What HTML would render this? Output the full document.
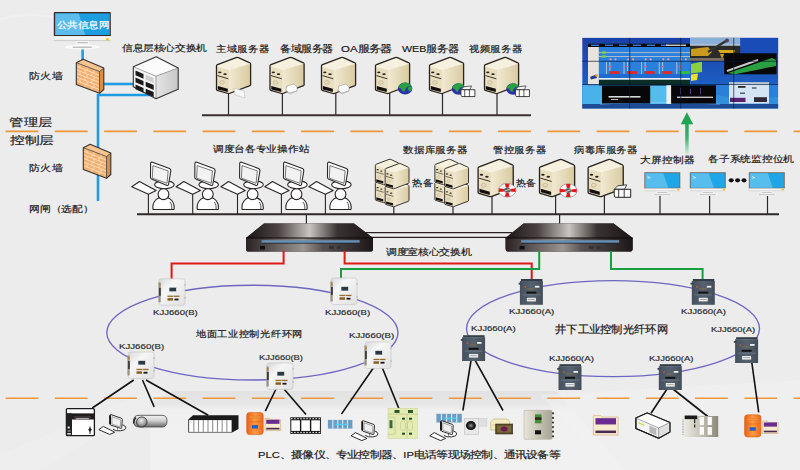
<!DOCTYPE html>
<html><head><meta charset="utf-8">
<style>
html,body{margin:0;padding:0;width:800px;height:470px;overflow:hidden;background:#ebebeb}
.t{position:absolute;white-space:nowrap;font-family:'Liberation Sans', sans-serif;line-height:1;color:#222;transform-origin:0 0}
.k{font-size:10px;font-weight:bold;color:#333}
</style></head><body>
<svg width="800" height="470" viewBox="0 0 800 470" style="position:absolute;left:0;top:0">

<defs>
 <linearGradient id="bg" x1="0" y1="0" x2="1" y2="1">
  <stop offset="0" stop-color="#ececec"/><stop offset="1" stop-color="#ececec"/>
 </linearGradient>
 <linearGradient id="band" x1="0" y1="391" x2="0" y2="470" gradientUnits="userSpaceOnUse">
  <stop offset="0" stop-color="#e2e2e2"/><stop offset="0.16" stop-color="#e6e6e6"/><stop offset="0.24" stop-color="#f0f0f0"/><stop offset="1" stop-color="#f1f1f1"/>
 </linearGradient>
 <linearGradient id="srvSide" x1="0" y1="0" x2="1" y2="0">
  <stop offset="0" stop-color="#f1e9d2"/><stop offset="1" stop-color="#d9cba0"/>
 </linearGradient>
 <linearGradient id="swTop" x1="0" y1="0" x2="1" y2="0">
  <stop offset="0" stop-color="#1b1515"/><stop offset="0.25" stop-color="#4a4242"/><stop offset="0.5" stop-color="#c9c4c0"/><stop offset="0.72" stop-color="#3a3333"/><stop offset="1" stop-color="#1a1414"/>
 </linearGradient>
 <linearGradient id="swFront" x1="0" y1="0" x2="1" y2="0">
  <stop offset="0" stop-color="#2a2222"/><stop offset="0.45" stop-color="#9a9490"/><stop offset="0.6" stop-color="#5a5252"/><stop offset="1" stop-color="#1c1616"/>
 </linearGradient>
 <linearGradient id="cubeSide" x1="0" y1="0" x2="1" y2="0">
  <stop offset="0" stop-color="#e4e4e4"/><stop offset="1" stop-color="#c8c8c8"/>
 </linearGradient>
 <linearGradient id="scrBlue" x1="0" y1="0" x2="1" y2="1">
  <stop offset="0" stop-color="#6cc4ee"/><stop offset="1" stop-color="#1c9fe0"/>
 </linearGradient>
 <linearGradient id="wall" x1="0" y1="0" x2="0" y2="1">
  <stop offset="0" stop-color="#1a40a8"/><stop offset="0.6" stop-color="#1c5cc0"/><stop offset="1" stop-color="#2a78d0"/>
 </linearGradient>
 <linearGradient id="nodeA" x1="0" y1="0" x2="1" y2="0">
  <stop offset="0" stop-color="#46505e"/><stop offset="0.5" stop-color="#56626f"/><stop offset="1" stop-color="#444e5b"/>
 </linearGradient>
 <linearGradient id="nodeB" x1="0" y1="0" x2="1" y2="1">
  <stop offset="0" stop-color="#d8d8d8"/><stop offset="0.35" stop-color="#f6f6f6"/><stop offset="1" stop-color="#e0e0e0"/>
 </linearGradient>
 <linearGradient id="orangePLC" x1="0" y1="0" x2="1" y2="0">
  <stop offset="0" stop-color="#e8601a"/><stop offset="0.5" stop-color="#ff9a40"/><stop offset="1" stop-color="#e86a20"/>
 </linearGradient>

 <linearGradient id="camGrad" x1="0" y1="0" x2="0" y2="1">
  <stop offset="0" stop-color="#f4f4f4"/><stop offset="0.45" stop-color="#d0d0d0"/><stop offset="1" stop-color="#6a6a6a"/>
 </linearGradient>
 <radialGradient id="camBall" cx="0.45" cy="0.35" r="0.7">
  <stop offset="0" stop-color="#f0f0f0"/><stop offset="0.6" stop-color="#a0a0a0"/><stop offset="1" stop-color="#505050"/>
 </radialGradient>
 <radialGradient id="domeBall" cx="0.5" cy="0.5" r="0.55">
  <stop offset="0" stop-color="#9a9a9a"/><stop offset="0.5" stop-color="#2a2a2a"/><stop offset="1" stop-color="#000"/>
 </radialGradient>
 <linearGradient id="tallGrad" x1="0" y1="0" x2="1" y2="0">
  <stop offset="0" stop-color="#e8e4d8"/><stop offset="1" stop-color="#a8a494"/>
 </linearGradient>
 <linearGradient id="modGrad" x1="0" y1="0" x2="1" y2="0">
  <stop offset="0" stop-color="#f0eee8"/><stop offset="0.5" stop-color="#c8c4b8"/><stop offset="1" stop-color="#8a867a"/>
 </linearGradient>
 <linearGradient id="arrowGrad" x1="0" y1="0" x2="0" y2="1">
  <stop offset="0" stop-color="#1fa552"/><stop offset="0.5" stop-color="#40b070"/><stop offset="1" stop-color="#d0ecd8"/>
 </linearGradient>
</defs>

<rect width="800" height="470" fill="url(#bg)"/>
<path d="M0,18 Q30,8 70,20 L70,22 Q30,11 0,21 Z" fill="#f3f3f3" opacity="0.5"/>
<path d="M178,391 L556,391 L625,470 L150,470 L150,412 Q152,391 178,391 Z" fill="url(#band)"/>
<path d="M540,395 L800,380 L800,470 L610,470 Z" fill="#f1f1f1" opacity="0.5"/>
<path d="M0,455 L140,395 L175,391 L40,470 L0,470 Z" fill="#f2f2f2" opacity="0.45"/>
<path d="M5.6,131.4 L800,131.4" stroke="#f0963a" stroke-width="1.6" stroke-dasharray="32.8 16.45"/>
<path d="M5.6,398.2 L800,398.2" stroke="#f0963a" stroke-width="1.6" stroke-dasharray="32.8 16.45"/>
<path d="M82.6,48 L82.6,61" stroke="#1e9be2" stroke-width="2.6" fill="none"/>
<path d="M103,84 L134,84" stroke="#1e9be2" stroke-width="2.6" fill="none"/>
<path d="M98,201 L98,95 L150,95" stroke="#1e9be2" stroke-width="2.6" fill="none"/>
<g transform="translate(53.8,11.9)"><rect x="0" y="0" width="57" height="24.5" rx="1.2" fill="#3a2a26"/><rect x="1.5" y="1.5" width="54.5" height="21.6" fill="#1c9ee0"/><path d="M1.5,1.5 L25,1.5 L31.5,23.1 L1.5,23.1 Z" fill="#5cbdec"/><rect x="0" y="24.2" width="57" height="5" fill="#f4f4f4"/><rect x="0" y="28" width="57" height="1.3" fill="#d0d0d0"/><circle cx="53.6" cy="27.3" r="1.3" fill="#f0c000"/><rect x="22" y="29.2" width="13.6" height="3.8" fill="#f6f6f6"/><rect x="23.5" y="30.4" width="10.5" height="0.9" fill="#aaa"/><ellipse cx="28.6" cy="35.1" rx="17.5" ry="2.4" fill="#fafafa"/><rect x="19" y="34.8" width="19" height="0.9" fill="#999"/></g>
<g transform="translate(76,59)"><path d="M0.3,3.7 L7.2,0.3 L27.8,9 L23.5,12.5 Z" fill="#f7c490"/><path d="M0.3,3.7 L23.5,12.5 L23.5,34.3 L0.3,25.5 Z" fill="#f2b070"/><path d="M23.5,12.5 L27.8,9 L27.8,30.5 L23.5,34.3 Z" fill="#d98e48"/><path d="M0.8,7.300000000000001 L23,16.1" stroke="#fde0c0" stroke-width="0.9"/><path d="M0.8,10.9 L23,19.700000000000003" stroke="#fde0c0" stroke-width="0.9"/><path d="M0.8,14.5 L23,23.3" stroke="#fde0c0" stroke-width="0.9"/><path d="M0.8,18.1 L23,26.900000000000002" stroke="#fde0c0" stroke-width="0.9"/><path d="M0.8,21.7 L23,30.5" stroke="#fde0c0" stroke-width="0.9"/><path d="M4,5.220000000000001 L4,8.82" stroke="#fde0c0" stroke-width="0.8"/><path d="M11,7.88 L11,11.48" stroke="#fde0c0" stroke-width="0.8"/><path d="M18,10.54 L18,14.139999999999999" stroke="#fde0c0" stroke-width="0.8"/><path d="M9,10.72 L9,14.32" stroke="#fde0c0" stroke-width="0.8"/><path d="M16,13.38 L16,16.98" stroke="#fde0c0" stroke-width="0.8"/><path d="M4,12.42 L4,16.02" stroke="#fde0c0" stroke-width="0.8"/><path d="M11,15.08 L11,18.68" stroke="#fde0c0" stroke-width="0.8"/><path d="M18,17.740000000000002 L18,21.340000000000003" stroke="#fde0c0" stroke-width="0.8"/><path d="M9,17.92 L9,21.520000000000003" stroke="#fde0c0" stroke-width="0.8"/><path d="M16,20.58 L16,24.18" stroke="#fde0c0" stroke-width="0.8"/><path d="M4,19.62 L4,23.220000000000002" stroke="#fde0c0" stroke-width="0.8"/><path d="M11,22.28 L11,25.880000000000003" stroke="#fde0c0" stroke-width="0.8"/><path d="M18,24.94 L18,28.540000000000003" stroke="#fde0c0" stroke-width="0.8"/><path d="M9,25.119999999999997 L9,28.72" stroke="#fde0c0" stroke-width="0.8"/><path d="M16,27.78 L16,31.380000000000003" stroke="#fde0c0" stroke-width="0.8"/><path d="M0.3,3.7 L7.2,0.3 L27.8,9 L27.8,30.5 L23.5,34.3 L0.3,25.5 Z" fill="none" stroke="#333" stroke-width="1.1" stroke-linejoin="round"/><path d="M0.3,3.7 L23.5,12.5 L27.8,9 M23.5,12.5 L23.5,34.3" fill="none" stroke="#333" stroke-width="0.7"/></g>
<g transform="translate(83,144)"><path d="M0.3,3.7 L7.2,0.3 L27.8,9 L23.5,12.5 Z" fill="#f7c490"/><path d="M0.3,3.7 L23.5,12.5 L23.5,34.3 L0.3,25.5 Z" fill="#f2b070"/><path d="M23.5,12.5 L27.8,9 L27.8,30.5 L23.5,34.3 Z" fill="#d98e48"/><path d="M0.8,7.300000000000001 L23,16.1" stroke="#fde0c0" stroke-width="0.9"/><path d="M0.8,10.9 L23,19.700000000000003" stroke="#fde0c0" stroke-width="0.9"/><path d="M0.8,14.5 L23,23.3" stroke="#fde0c0" stroke-width="0.9"/><path d="M0.8,18.1 L23,26.900000000000002" stroke="#fde0c0" stroke-width="0.9"/><path d="M0.8,21.7 L23,30.5" stroke="#fde0c0" stroke-width="0.9"/><path d="M4,5.220000000000001 L4,8.82" stroke="#fde0c0" stroke-width="0.8"/><path d="M11,7.88 L11,11.48" stroke="#fde0c0" stroke-width="0.8"/><path d="M18,10.54 L18,14.139999999999999" stroke="#fde0c0" stroke-width="0.8"/><path d="M9,10.72 L9,14.32" stroke="#fde0c0" stroke-width="0.8"/><path d="M16,13.38 L16,16.98" stroke="#fde0c0" stroke-width="0.8"/><path d="M4,12.42 L4,16.02" stroke="#fde0c0" stroke-width="0.8"/><path d="M11,15.08 L11,18.68" stroke="#fde0c0" stroke-width="0.8"/><path d="M18,17.740000000000002 L18,21.340000000000003" stroke="#fde0c0" stroke-width="0.8"/><path d="M9,17.92 L9,21.520000000000003" stroke="#fde0c0" stroke-width="0.8"/><path d="M16,20.58 L16,24.18" stroke="#fde0c0" stroke-width="0.8"/><path d="M4,19.62 L4,23.220000000000002" stroke="#fde0c0" stroke-width="0.8"/><path d="M11,22.28 L11,25.880000000000003" stroke="#fde0c0" stroke-width="0.8"/><path d="M18,24.94 L18,28.540000000000003" stroke="#fde0c0" stroke-width="0.8"/><path d="M9,25.119999999999997 L9,28.72" stroke="#fde0c0" stroke-width="0.8"/><path d="M16,27.78 L16,31.380000000000003" stroke="#fde0c0" stroke-width="0.8"/><path d="M0.3,3.7 L7.2,0.3 L27.8,9 L27.8,30.5 L23.5,34.3 L0.3,25.5 Z" fill="none" stroke="#333" stroke-width="1.1" stroke-linejoin="round"/><path d="M0.3,3.7 L23.5,12.5 L27.8,9 M23.5,12.5 L23.5,34.3" fill="none" stroke="#333" stroke-width="0.7"/></g>
<g transform="translate(133,56)"><path d="M0.3,10.8 L23.2,0.7 L45.2,12 L23,20.2 Z" fill="#fbfbfb"/><path d="M0.3,10.8 L23,20.2 L23,42.7 L0.3,30.7 Z" fill="#f4f4f4"/><path d="M23,20.2 L45.2,12 L45.2,33.3 L23,42.7 Z" fill="url(#cubeSide)"/><path d="M0.3,10.8 L23.2,0.7 L45.2,12 L45.2,33.3 L23,42.7 L0.3,30.7 Z" fill="none" stroke="#333" stroke-width="1.1" stroke-linejoin="round"/><path d="M0.3,10.8 L23,20.2 L45.2,12 M23,20.2 L23,42.7" fill="none" stroke="#555" stroke-width="0.5"/><path d="M2.5,14.5 L10.5,17.9 L10.5,22.7 L2.5,19.3 Z" fill="#1a1a1a"/><path d="M12.7,18.7 L20.7,22.099999999999998 L20.7,26.9 L12.7,23.5 Z" fill="#cfcfcf"/><path d="M2.5,21.5 L10.5,24.9 L10.5,29.7 L2.5,26.3 Z" fill="#1a1a1a"/><path d="M12.7,25.7 L20.7,29.099999999999998 L20.7,33.9 L12.7,30.5 Z" fill="#1a1a1a"/><path d="M2.5,28.5 L10.5,31.9 L10.5,36.7 L2.5,33.3 Z" fill="#1a1a1a"/><path d="M12.7,32.7 L20.7,36.1 L20.7,40.900000000000006 L12.7,37.5 Z" fill="#1a1a1a"/></g>
<path d="M228.5,93 L228.5,115" stroke="#2e2828" stroke-width="1.2"/>
<path d="M282.4,93 L282.4,115" stroke="#2e2828" stroke-width="1.2"/>
<path d="M335.8,93 L335.8,115" stroke="#2e2828" stroke-width="1.2"/>
<path d="M389.7,93 L389.7,115" stroke="#2e2828" stroke-width="1.2"/>
<path d="M442.5,93 L442.5,115" stroke="#2e2828" stroke-width="1.2"/>
<path d="M497,93 L497,115" stroke="#2e2828" stroke-width="1.2"/>
<path d="M202,115.2 L531,115.2" stroke="#3a3030" stroke-width="2"/>
<g transform="translate(216,57) scale(1.0)"><path d="M0.5,9 Q0.5,8 1.5,7.6 L20,0.6 Q21.5,0.2 23,0.8 L33.8,5.8 Q34.6,6.3 34.6,7.2 L34.6,27.8 Q34.6,28.4 34,28.7 L13.2,36.5 Q12.6,36.7 12,36.5 L1.2,33.3 Q0.5,33 0.5,32.3 Z" fill="#e9dfc0"/><path d="M0.5,9 L21.5,0.5 L34.6,6.5 L13.1,12.6 Z" fill="#f6f0de"/><path d="M13.1,12.6 L34.6,6.5 L34.6,28 L12.8,36.6 Z" fill="url(#srvSide)"/><path d="M0.5,9 Q0.5,8 1.5,7.6 L20,0.6 Q21.5,0.2 23,0.8 L33.8,5.8 Q34.6,6.3 34.6,7.2 L34.6,27.8 Q34.6,28.4 34,28.7 L13.2,36.5 Q12.6,36.7 12,36.5 L1.2,33.3 Q0.5,33 0.5,32.3 Z" fill="none" stroke="#2a2420" stroke-width="1.3" stroke-linejoin="round"/><path d="M1,9.2 L13.1,12.6 L34,6.6" fill="none" stroke="#fff" stroke-width="0.6" opacity="0.7"/><ellipse cx="3.8" cy="15.3" rx="1.7" ry="0.9" fill="#2a2420"/><ellipse cx="9" cy="17.2" rx="1.7" ry="0.9" fill="#2a2420"/><path d="M1.5,18.6 L12.3,21.8" stroke="#2a2420" stroke-width="0.9"/><ellipse cx="6" cy="25.5" rx="2.3" ry="1.7" fill="none" stroke="#b8aa88" stroke-width="0.7"/><path d="M1.8,29 L11.8,31.8 L11.8,35 L1.8,32.4 Z" fill="#141010"/></g>
<g transform="translate(269.5,57) scale(1.0)"><path d="M0.5,9 Q0.5,8 1.5,7.6 L20,0.6 Q21.5,0.2 23,0.8 L33.8,5.8 Q34.6,6.3 34.6,7.2 L34.6,27.8 Q34.6,28.4 34,28.7 L13.2,36.5 Q12.6,36.7 12,36.5 L1.2,33.3 Q0.5,33 0.5,32.3 Z" fill="#e9dfc0"/><path d="M0.5,9 L21.5,0.5 L34.6,6.5 L13.1,12.6 Z" fill="#f6f0de"/><path d="M13.1,12.6 L34.6,6.5 L34.6,28 L12.8,36.6 Z" fill="url(#srvSide)"/><path d="M0.5,9 Q0.5,8 1.5,7.6 L20,0.6 Q21.5,0.2 23,0.8 L33.8,5.8 Q34.6,6.3 34.6,7.2 L34.6,27.8 Q34.6,28.4 34,28.7 L13.2,36.5 Q12.6,36.7 12,36.5 L1.2,33.3 Q0.5,33 0.5,32.3 Z" fill="none" stroke="#2a2420" stroke-width="1.3" stroke-linejoin="round"/><path d="M1,9.2 L13.1,12.6 L34,6.6" fill="none" stroke="#fff" stroke-width="0.6" opacity="0.7"/><ellipse cx="3.8" cy="15.3" rx="1.7" ry="0.9" fill="#2a2420"/><ellipse cx="9" cy="17.2" rx="1.7" ry="0.9" fill="#2a2420"/><path d="M1.5,18.6 L12.3,21.8" stroke="#2a2420" stroke-width="0.9"/><ellipse cx="6" cy="25.5" rx="2.3" ry="1.7" fill="none" stroke="#b8aa88" stroke-width="0.7"/><path d="M1.8,29 L11.8,31.8 L11.8,35 L1.8,32.4 Z" fill="#141010"/></g>
<g transform="translate(321,57) scale(1.0)"><path d="M0.5,9 Q0.5,8 1.5,7.6 L20,0.6 Q21.5,0.2 23,0.8 L33.8,5.8 Q34.6,6.3 34.6,7.2 L34.6,27.8 Q34.6,28.4 34,28.7 L13.2,36.5 Q12.6,36.7 12,36.5 L1.2,33.3 Q0.5,33 0.5,32.3 Z" fill="#e9dfc0"/><path d="M0.5,9 L21.5,0.5 L34.6,6.5 L13.1,12.6 Z" fill="#f6f0de"/><path d="M13.1,12.6 L34.6,6.5 L34.6,28 L12.8,36.6 Z" fill="url(#srvSide)"/><path d="M0.5,9 Q0.5,8 1.5,7.6 L20,0.6 Q21.5,0.2 23,0.8 L33.8,5.8 Q34.6,6.3 34.6,7.2 L34.6,27.8 Q34.6,28.4 34,28.7 L13.2,36.5 Q12.6,36.7 12,36.5 L1.2,33.3 Q0.5,33 0.5,32.3 Z" fill="none" stroke="#2a2420" stroke-width="1.3" stroke-linejoin="round"/><path d="M1,9.2 L13.1,12.6 L34,6.6" fill="none" stroke="#fff" stroke-width="0.6" opacity="0.7"/><ellipse cx="3.8" cy="15.3" rx="1.7" ry="0.9" fill="#2a2420"/><ellipse cx="9" cy="17.2" rx="1.7" ry="0.9" fill="#2a2420"/><path d="M1.5,18.6 L12.3,21.8" stroke="#2a2420" stroke-width="0.9"/><ellipse cx="6" cy="25.5" rx="2.3" ry="1.7" fill="none" stroke="#b8aa88" stroke-width="0.7"/><path d="M1.8,29 L11.8,31.8 L11.8,35 L1.8,32.4 Z" fill="#141010"/></g>
<g transform="translate(375,57) scale(1.0)"><path d="M0.5,9 Q0.5,8 1.5,7.6 L20,0.6 Q21.5,0.2 23,0.8 L33.8,5.8 Q34.6,6.3 34.6,7.2 L34.6,27.8 Q34.6,28.4 34,28.7 L13.2,36.5 Q12.6,36.7 12,36.5 L1.2,33.3 Q0.5,33 0.5,32.3 Z" fill="#e9dfc0"/><path d="M0.5,9 L21.5,0.5 L34.6,6.5 L13.1,12.6 Z" fill="#f6f0de"/><path d="M13.1,12.6 L34.6,6.5 L34.6,28 L12.8,36.6 Z" fill="url(#srvSide)"/><path d="M0.5,9 Q0.5,8 1.5,7.6 L20,0.6 Q21.5,0.2 23,0.8 L33.8,5.8 Q34.6,6.3 34.6,7.2 L34.6,27.8 Q34.6,28.4 34,28.7 L13.2,36.5 Q12.6,36.7 12,36.5 L1.2,33.3 Q0.5,33 0.5,32.3 Z" fill="none" stroke="#2a2420" stroke-width="1.3" stroke-linejoin="round"/><path d="M1,9.2 L13.1,12.6 L34,6.6" fill="none" stroke="#fff" stroke-width="0.6" opacity="0.7"/><ellipse cx="3.8" cy="15.3" rx="1.7" ry="0.9" fill="#2a2420"/><ellipse cx="9" cy="17.2" rx="1.7" ry="0.9" fill="#2a2420"/><path d="M1.5,18.6 L12.3,21.8" stroke="#2a2420" stroke-width="0.9"/><ellipse cx="6" cy="25.5" rx="2.3" ry="1.7" fill="none" stroke="#b8aa88" stroke-width="0.7"/><path d="M1.8,29 L11.8,31.8 L11.8,35 L1.8,32.4 Z" fill="#141010"/></g>
<g transform="translate(429,57) scale(1.0)"><path d="M0.5,9 Q0.5,8 1.5,7.6 L20,0.6 Q21.5,0.2 23,0.8 L33.8,5.8 Q34.6,6.3 34.6,7.2 L34.6,27.8 Q34.6,28.4 34,28.7 L13.2,36.5 Q12.6,36.7 12,36.5 L1.2,33.3 Q0.5,33 0.5,32.3 Z" fill="#e9dfc0"/><path d="M0.5,9 L21.5,0.5 L34.6,6.5 L13.1,12.6 Z" fill="#f6f0de"/><path d="M13.1,12.6 L34.6,6.5 L34.6,28 L12.8,36.6 Z" fill="url(#srvSide)"/><path d="M0.5,9 Q0.5,8 1.5,7.6 L20,0.6 Q21.5,0.2 23,0.8 L33.8,5.8 Q34.6,6.3 34.6,7.2 L34.6,27.8 Q34.6,28.4 34,28.7 L13.2,36.5 Q12.6,36.7 12,36.5 L1.2,33.3 Q0.5,33 0.5,32.3 Z" fill="none" stroke="#2a2420" stroke-width="1.3" stroke-linejoin="round"/><path d="M1,9.2 L13.1,12.6 L34,6.6" fill="none" stroke="#fff" stroke-width="0.6" opacity="0.7"/><ellipse cx="3.8" cy="15.3" rx="1.7" ry="0.9" fill="#2a2420"/><ellipse cx="9" cy="17.2" rx="1.7" ry="0.9" fill="#2a2420"/><path d="M1.5,18.6 L12.3,21.8" stroke="#2a2420" stroke-width="0.9"/><ellipse cx="6" cy="25.5" rx="2.3" ry="1.7" fill="none" stroke="#b8aa88" stroke-width="0.7"/><path d="M1.8,29 L11.8,31.8 L11.8,35 L1.8,32.4 Z" fill="#141010"/></g>
<g transform="translate(484,57) scale(1.0)"><path d="M0.5,9 Q0.5,8 1.5,7.6 L20,0.6 Q21.5,0.2 23,0.8 L33.8,5.8 Q34.6,6.3 34.6,7.2 L34.6,27.8 Q34.6,28.4 34,28.7 L13.2,36.5 Q12.6,36.7 12,36.5 L1.2,33.3 Q0.5,33 0.5,32.3 Z" fill="#e9dfc0"/><path d="M0.5,9 L21.5,0.5 L34.6,6.5 L13.1,12.6 Z" fill="#f6f0de"/><path d="M13.1,12.6 L34.6,6.5 L34.6,28 L12.8,36.6 Z" fill="url(#srvSide)"/><path d="M0.5,9 Q0.5,8 1.5,7.6 L20,0.6 Q21.5,0.2 23,0.8 L33.8,5.8 Q34.6,6.3 34.6,7.2 L34.6,27.8 Q34.6,28.4 34,28.7 L13.2,36.5 Q12.6,36.7 12,36.5 L1.2,33.3 Q0.5,33 0.5,32.3 Z" fill="none" stroke="#2a2420" stroke-width="1.3" stroke-linejoin="round"/><path d="M1,9.2 L13.1,12.6 L34,6.6" fill="none" stroke="#fff" stroke-width="0.6" opacity="0.7"/><ellipse cx="3.8" cy="15.3" rx="1.7" ry="0.9" fill="#2a2420"/><ellipse cx="9" cy="17.2" rx="1.7" ry="0.9" fill="#2a2420"/><path d="M1.5,18.6 L12.3,21.8" stroke="#2a2420" stroke-width="0.9"/><ellipse cx="6" cy="25.5" rx="2.3" ry="1.7" fill="none" stroke="#b8aa88" stroke-width="0.7"/><path d="M1.8,29 L11.8,31.8 L11.8,35 L1.8,32.4 Z" fill="#141010"/></g>
<path d="M234,88 L244,91 L245,98 L235,95 Z" fill="#fafafa" stroke="#bbb" stroke-width="0.6"/>
<g transform="translate(285,82)"><path d="M2,4 L9,2 L12,5 L12,9 L4,11 L1,8 Z" fill="#fafafa" stroke="#999" stroke-width="0.6"/><path d="M0,9 L5,12 L12,9" fill="none" stroke="#aaa" stroke-width="0.6"/></g>
<g transform="translate(337,82)"><path d="M2,4 L9,2 L12,5 L12,9 L4,11 L1,8 Z" fill="#fafafa" stroke="#999" stroke-width="0.6"/><path d="M0,9 L5,12 L12,9" fill="none" stroke="#aaa" stroke-width="0.6"/></g>
<ellipse cx="405.1" cy="88.5" rx="7.2" ry="5.976" fill="#2a34a8"/><path d="M398.26000000000005,87.3048 Q400.78000000000003,82.524 405.82000000000005,82.524 Q409.42,82.8228 411.22,85.512 L407.98,86.4084 Q404.38,89.0976 404.74,91.7868 L402.58000000000004,90.8904 Q401.5,87.9024 398.26000000000005,87.3048 Z" fill="#2aa040"/><path d="M407.62,88.2012 Q409.42,84.9144 411.94,87.006 Q412.3,90.2928 410.14000000000004,91.7868 Q407.98,90.2928 407.62,88.2012 Z" fill="#2aa040"/>
<ellipse cx="458.5" cy="89" rx="6.8" ry="5.643999999999999" fill="#2a34a8"/><path d="M452.04,87.8712 Q454.42,83.356 459.18,83.356 Q462.58,83.6382 464.28,86.178 L461.22,87.0246 Q457.82,89.5644 458.16,92.1042 L456.12,91.2576 Q455.1,88.4356 452.04,87.8712 Z" fill="#2aa040"/><path d="M460.88,88.7178 Q462.58,85.6136 464.96,87.589 Q465.3,90.6932 463.26,92.1042 Q461.22,90.6932 460.88,88.7178 Z" fill="#2aa040"/><g transform="translate(460.5,85.5) scale(0.85)"><path d="M0.5,5 L4,1.5 L13,0.5 L11,5 Z" fill="#f4f4f4" stroke="#222" stroke-width="0.8" stroke-linejoin="round"/><path d="M0.5,5 L17,5 L17,13 L1.5,13 Q0.5,12 0.5,10 Z" fill="#fff" stroke="#222" stroke-width="1"/><path d="M5,5 L5,13 M10.5,5 L10.5,13" stroke="#222" stroke-width="0.9"/></g>
<ellipse cx="513" cy="89" rx="6.8" ry="5.643999999999999" fill="#2a34a8"/><path d="M506.54,87.8712 Q508.92,83.356 513.68,83.356 Q517.08,83.6382 518.78,86.178 L515.72,87.0246 Q512.32,89.5644 512.66,92.1042 L510.62,91.2576 Q509.6,88.4356 506.54,87.8712 Z" fill="#2aa040"/><path d="M515.38,88.7178 Q517.08,85.6136 519.46,87.589 Q519.8,90.6932 517.76,92.1042 Q515.72,90.6932 515.38,88.7178 Z" fill="#2aa040"/><g transform="translate(515,85.5) scale(0.85)"><path d="M0.5,5 L4,1.5 L13,0.5 L11,5 Z" fill="#f4f4f4" stroke="#222" stroke-width="0.8" stroke-linejoin="round"/><path d="M0.5,5 L17,5 L17,13 L1.5,13 Q0.5,12 0.5,10 Z" fill="#fff" stroke="#222" stroke-width="1"/><path d="M5,5 L5,13 M10.5,5 L10.5,13" stroke="#222" stroke-width="0.9"/></g>
<g>
<rect x="582.3" y="37.9" width="195.8" height="70.6" fill="url(#wall)"/>
<path d="M582.3,85 L778,85 L778,104 L582.3,104 Z" fill="#2a80d8"/>
<path d="M582.3,85 L602,85 L602,104 L582.3,104 Z" fill="#4ab2ea"/>
<path d="M650,85 L671,85 L671,104 L650,104 Z" fill="#56bcee"/>
<path d="M716,95 Q745,100 778,97 L778,104 L716,104 Z" fill="#3a98e0" opacity="0.6"/>
<rect x="582.3" y="104" width="195.8" height="4.5" fill="#1c4c98"/>
<path d="M600,104.2 Q650,100.5 720,104.2" stroke="#9ad0f8" stroke-width="0.7" fill="none" opacity="0.7"/>
<rect x="588" y="43.6" width="102.5" height="41.9" fill="#2a80dc"/>
<rect x="588" y="43.6" width="102.5" height="3.4" fill="#080808"/>
<rect x="591" y="44.6" width="8" height="1.4" fill="#3a7ae0"/>
<rect x="605" y="44.6" width="8" height="1.4" fill="#3a7ae0"/>
<rect x="619" y="44.6" width="8" height="1.4" fill="#3a7ae0"/>
<rect x="633" y="44.6" width="8" height="1.4" fill="#3a7ae0"/>
<rect x="647" y="44.6" width="8" height="1.4" fill="#3a7ae0"/>
<rect x="661" y="44.6" width="8" height="1.4" fill="#3a7ae0"/>
<rect x="666" y="44.6" width="20" height="1.3" fill="#ddd"/>
<rect x="588" y="47" width="10.8" height="37.5" fill="#e8e4dc"/>
<path d="M590,77 L596,74.5 L597,78 L591,79.5 Z" fill="#203a90"/><path d="M594,76 L597.5,74 L597.5,77 Z" fill="#f09020"/>
<rect x="599" y="52.2" width="91" height="0.9" fill="#b8c4d0"/><rect x="599" y="56.1" width="91" height="0.9" fill="#b8c4d0"/>
<ellipse cx="604" cy="52.5" rx="2.5" ry="1.2" fill="#8ad040"/><ellipse cx="604" cy="56.4" rx="2.5" ry="1.2" fill="#8ad040"/>
<circle cx="610.5" cy="59.3" r="1.1" fill="#f0a0a0"/><circle cx="615.5" cy="59.3" r="1.1" fill="#f0a0a0"/>
<rect x="606.0" y="62" width="0.9" height="17" fill="#c0c8d0"/><rect x="609.5" y="62" width="0.8" height="9" fill="#d0d8e0"/>
<rect x="608.5" y="66" width="3" height="1.2" fill="#e06080"/>
<rect x="609.5" y="71.2" width="10" height="2.7" fill="#e02828"/>
<circle cx="628.1" cy="59.3" r="1.1" fill="#f0a0a0"/><circle cx="633.1" cy="59.3" r="1.1" fill="#f0a0a0"/>
<rect x="623.6" y="62" width="0.9" height="17" fill="#c0c8d0"/><rect x="627.1" y="62" width="0.8" height="9" fill="#d0d8e0"/>
<rect x="626.1" y="66" width="3" height="1.2" fill="#e06080"/>
<rect x="627.1" y="71.2" width="10" height="2.7" fill="#e02828"/>
<circle cx="645.7" cy="59.3" r="1.1" fill="#f0a0a0"/><circle cx="650.7" cy="59.3" r="1.1" fill="#f0a0a0"/>
<rect x="641.2" y="62" width="0.9" height="17" fill="#c0c8d0"/><rect x="644.7" y="62" width="0.8" height="9" fill="#d0d8e0"/>
<rect x="643.7" y="66" width="3" height="1.2" fill="#e06080"/>
<rect x="644.7" y="71.2" width="10" height="2.7" fill="#e02828"/>
<circle cx="663.3" cy="59.3" r="1.1" fill="#f0a0a0"/><circle cx="668.3" cy="59.3" r="1.1" fill="#f0a0a0"/>
<rect x="658.8" y="62" width="0.9" height="17" fill="#c0c8d0"/><rect x="662.3" y="62" width="0.8" height="9" fill="#d0d8e0"/>
<rect x="661.3" y="66" width="3" height="1.2" fill="#e06080"/>
<rect x="662.3" y="71.2" width="10" height="2.7" fill="#e02828"/>
<circle cx="680.9" cy="59.3" r="1.1" fill="#f0a0a0"/><circle cx="685.9" cy="59.3" r="1.1" fill="#f0a0a0"/>
<rect x="676.4" y="62" width="0.9" height="17" fill="#c0c8d0"/><rect x="679.9" y="62" width="0.8" height="9" fill="#d0d8e0"/>
<rect x="678.9" y="66" width="3" height="1.2" fill="#e06080"/>
<rect x="679.9" y="71.2" width="10" height="2.7" fill="#30c040"/>
<rect x="599" y="74" width="91" height="4" fill="#1e6cd0"/>
<rect x="599" y="78" width="91" height="1.8" fill="#e8eef4"/>
<rect x="599" y="79.8" width="91" height="5.7" fill="#0c2e26"/>
<rect x="602" y="85.6" width="48.2" height="17.8" fill="#070707"/>
<rect x="608.5" y="96" width="32" height="1.6" fill="#d8d8d8"/><rect x="611" y="99" width="7" height="1" fill="#bbb"/>
<rect x="666.4" y="85.3" width="4.8" height="18.6" fill="#f0f0ec"/>
<rect x="671.2" y="85.3" width="44.8" height="18.3" fill="#080608"/>
<rect x="677" y="96.6" width="36" height="1.4" fill="#c8c8c8"/>
<rect x="680" y="88" width="1" height="6" fill="#6a3a8a"/><rect x="690" y="89" width="1" height="5" fill="#6a3a8a"/><rect x="700" y="88" width="1" height="6" fill="#5a3a7a"/>
<rect x="690" y="37.9" width="50.4" height="23.1" fill="#2a2a28"/>
<rect x="690" y="37.9" width="50.4" height="7" fill="#8ab0d8"/>
<rect x="690" y="44" width="50.4" height="2" fill="#c0d0e0" opacity="0.7"/>
<path d="M691,49 L708,47 L712,52 L708,56 L691,56 Z" fill="#c89a20"/>
<path d="M718,50 L735,50 L734,53 L720,53 Z" fill="#d8a820"/><path d="M720,54 L724,54 L722,59 Z" fill="#d8a020"/>
<path d="M708,52 L726,41" stroke="#333" stroke-width="2.5"/><circle cx="727" cy="40.5" r="2" fill="#5a3a50"/>
<rect x="690" y="58" width="50.4" height="3" fill="#7a7064"/>
<rect x="740.4" y="37.9" width="37.7" height="15.4" fill="#1a4cb8"/>
<rect x="724.2" y="53.3" width="52.4" height="21" fill="#080808"/>
<path d="M728,73 L772,58 L776,60 L776,66 L735,74.3 Z" fill="#2aa040"/>
<path d="M727,71 L758,60" stroke="#c8c8c8" stroke-width="2"/>
<rect x="729" y="82.3" width="40" height="21.3" fill="#d4e4f4"/>
<rect x="729" y="82.3" width="40" height="1.3" fill="#a8b8c8"/>
<rect x="738" y="86" width="7.5" height="1.8" fill="#2a2a2a"/><rect x="752" y="87.3" width="4.5" height="1.4" fill="#555"/><rect x="740" y="92.5" width="5" height="1.4" fill="#555"/>
<rect x="730" y="97.8" width="15.5" height="4.2" fill="#5a2070"/><rect x="754" y="97.2" width="13" height="4.8" fill="#302838"/>
<path d="M691,64 L702,61.5 L702,72 L691,73.5 Z" fill="#8cd040"/>
<path d="M691,74.5 L698,73.5 L697,80 L691,81 Z" fill="#f0e030"/>
<rect x="629.3" y="37.9" width="0.9" height="70.6" fill="#0a1838" opacity="0.75"/>
<rect x="680.3" y="37.9" width="0.9" height="70.6" fill="#0a1838" opacity="0.75"/>
<rect x="733.3" y="37.9" width="0.9" height="70.6" fill="#0a1838" opacity="0.75"/>
<rect x="582.3" y="60.8" width="195.8" height="0.9" fill="#0a1838" opacity="0.75"/>
<rect x="582.3" y="84" width="195.8" height="0.9" fill="#0a1838" opacity="0.75"/>
</g>
<rect x="685.2" y="122" width="3.5" height="32" fill="url(#arrowGrad)"/>
<path d="M680.8,124.3 L686.9,112.3 L693.2,124.3 Z" fill="#1fa552"/>
<path d="M137,214.2 L779,214.2" stroke="#2e2828" stroke-width="2"/>
<g transform="translate(0.0,0)"><path d="M131.8,186.7 L139.5,181.5 L156.1,190.5 L148.4,194.3 Z" fill="#fff" stroke="#2a2626" stroke-width="1.1" stroke-linejoin="round"/><path d="M148.4,194 L148.4,214" stroke="#2a2626" stroke-width="1.1"/><ellipse cx="164.4" cy="184.7" rx="9.8" ry="4" fill="#fff" stroke="#2a2626" stroke-width="1.1" stroke-linejoin="round"/><path d="M150.6,163.5 Q150.8,161.8 152.5,162.2 L169.5,168.5 Q171,169.3 170.8,171 L168.5,184.5 Q167.8,186 166.5,185.3 L151.5,179 Q150.4,178.5 150.5,177 Z" fill="#fff" stroke="#2a2626" stroke-width="1.1" stroke-linejoin="round"/><path d="M152.9,165.6 L168.2,170.9 L167,183.3 L152.3,178.2 Z" fill="#f2f2f2" stroke="#555" stroke-width="0.8"/><path d="M153,209.5 C152,202.5 156,197.3 163.5,197 C171,197.3 175,202.5 174,209.5 Z" fill="#fff" stroke="#2a2626" stroke-width="1.1" stroke-linejoin="round"/><path d="M170,202 C171.5,204 172,206 171.8,209" fill="none" stroke="#2a2626" stroke-width="0.8"/><circle cx="163.5" cy="194.2" r="5.4" fill="#fff" stroke="#2a2626" stroke-width="1.1" stroke-linejoin="round"/></g>
<g transform="translate(44.29999999999998,0)"><path d="M131.8,186.7 L139.5,181.5 L156.1,190.5 L148.4,194.3 Z" fill="#fff" stroke="#2a2626" stroke-width="1.1" stroke-linejoin="round"/><path d="M148.4,194 L148.4,214" stroke="#2a2626" stroke-width="1.1"/><ellipse cx="164.4" cy="184.7" rx="9.8" ry="4" fill="#fff" stroke="#2a2626" stroke-width="1.1" stroke-linejoin="round"/><path d="M150.6,163.5 Q150.8,161.8 152.5,162.2 L169.5,168.5 Q171,169.3 170.8,171 L168.5,184.5 Q167.8,186 166.5,185.3 L151.5,179 Q150.4,178.5 150.5,177 Z" fill="#fff" stroke="#2a2626" stroke-width="1.1" stroke-linejoin="round"/><path d="M152.9,165.6 L168.2,170.9 L167,183.3 L152.3,178.2 Z" fill="#f2f2f2" stroke="#555" stroke-width="0.8"/><path d="M153,209.5 C152,202.5 156,197.3 163.5,197 C171,197.3 175,202.5 174,209.5 Z" fill="#fff" stroke="#2a2626" stroke-width="1.1" stroke-linejoin="round"/><path d="M170,202 C171.5,204 172,206 171.8,209" fill="none" stroke="#2a2626" stroke-width="0.8"/><circle cx="163.5" cy="194.2" r="5.4" fill="#fff" stroke="#2a2626" stroke-width="1.1" stroke-linejoin="round"/></g>
<g transform="translate(89.1,0)"><path d="M131.8,186.7 L139.5,181.5 L156.1,190.5 L148.4,194.3 Z" fill="#fff" stroke="#2a2626" stroke-width="1.1" stroke-linejoin="round"/><path d="M148.4,194 L148.4,214" stroke="#2a2626" stroke-width="1.1"/><ellipse cx="164.4" cy="184.7" rx="9.8" ry="4" fill="#fff" stroke="#2a2626" stroke-width="1.1" stroke-linejoin="round"/><path d="M150.6,163.5 Q150.8,161.8 152.5,162.2 L169.5,168.5 Q171,169.3 170.8,171 L168.5,184.5 Q167.8,186 166.5,185.3 L151.5,179 Q150.4,178.5 150.5,177 Z" fill="#fff" stroke="#2a2626" stroke-width="1.1" stroke-linejoin="round"/><path d="M152.9,165.6 L168.2,170.9 L167,183.3 L152.3,178.2 Z" fill="#f2f2f2" stroke="#555" stroke-width="0.8"/><path d="M153,209.5 C152,202.5 156,197.3 163.5,197 C171,197.3 175,202.5 174,209.5 Z" fill="#fff" stroke="#2a2626" stroke-width="1.1" stroke-linejoin="round"/><path d="M170,202 C171.5,204 172,206 171.8,209" fill="none" stroke="#2a2626" stroke-width="0.8"/><circle cx="163.5" cy="194.2" r="5.4" fill="#fff" stroke="#2a2626" stroke-width="1.1" stroke-linejoin="round"/></g>
<g transform="translate(133.0,0)"><path d="M131.8,186.7 L139.5,181.5 L156.1,190.5 L148.4,194.3 Z" fill="#fff" stroke="#2a2626" stroke-width="1.1" stroke-linejoin="round"/><path d="M148.4,194 L148.4,214" stroke="#2a2626" stroke-width="1.1"/><ellipse cx="164.4" cy="184.7" rx="9.8" ry="4" fill="#fff" stroke="#2a2626" stroke-width="1.1" stroke-linejoin="round"/><path d="M150.6,163.5 Q150.8,161.8 152.5,162.2 L169.5,168.5 Q171,169.3 170.8,171 L168.5,184.5 Q167.8,186 166.5,185.3 L151.5,179 Q150.4,178.5 150.5,177 Z" fill="#fff" stroke="#2a2626" stroke-width="1.1" stroke-linejoin="round"/><path d="M152.9,165.6 L168.2,170.9 L167,183.3 L152.3,178.2 Z" fill="#f2f2f2" stroke="#555" stroke-width="0.8"/><path d="M153,209.5 C152,202.5 156,197.3 163.5,197 C171,197.3 175,202.5 174,209.5 Z" fill="#fff" stroke="#2a2626" stroke-width="1.1" stroke-linejoin="round"/><path d="M170,202 C171.5,204 172,206 171.8,209" fill="none" stroke="#2a2626" stroke-width="0.8"/><circle cx="163.5" cy="194.2" r="5.4" fill="#fff" stroke="#2a2626" stroke-width="1.1" stroke-linejoin="round"/></g>
<g transform="translate(177.0,0)"><path d="M131.8,186.7 L139.5,181.5 L156.1,190.5 L148.4,194.3 Z" fill="#fff" stroke="#2a2626" stroke-width="1.1" stroke-linejoin="round"/><path d="M148.4,194 L148.4,214" stroke="#2a2626" stroke-width="1.1"/><ellipse cx="164.4" cy="184.7" rx="9.8" ry="4" fill="#fff" stroke="#2a2626" stroke-width="1.1" stroke-linejoin="round"/><path d="M150.6,163.5 Q150.8,161.8 152.5,162.2 L169.5,168.5 Q171,169.3 170.8,171 L168.5,184.5 Q167.8,186 166.5,185.3 L151.5,179 Q150.4,178.5 150.5,177 Z" fill="#fff" stroke="#2a2626" stroke-width="1.1" stroke-linejoin="round"/><path d="M152.9,165.6 L168.2,170.9 L167,183.3 L152.3,178.2 Z" fill="#f2f2f2" stroke="#555" stroke-width="0.8"/><path d="M153,209.5 C152,202.5 156,197.3 163.5,197 C171,197.3 175,202.5 174,209.5 Z" fill="#fff" stroke="#2a2626" stroke-width="1.1" stroke-linejoin="round"/><path d="M170,202 C171.5,204 172,206 171.8,209" fill="none" stroke="#2a2626" stroke-width="0.8"/><circle cx="163.5" cy="194.2" r="5.4" fill="#fff" stroke="#2a2626" stroke-width="1.1" stroke-linejoin="round"/></g>
<path d="M393.8,200 L393.8,214" stroke="#2e2828" stroke-width="1.2"/>
<path d="M453,200 L453,214" stroke="#2e2828" stroke-width="1.2"/>
<g transform="translate(0,0)"><g transform="translate(375,177) scale(0.7)"><path d="M0.5,9 Q0.5,8 1.5,7.6 L20,0.6 Q21.5,0.2 23,0.8 L33.8,5.8 Q34.6,6.3 34.6,7.2 L34.6,27.8 Q34.6,28.4 34,28.7 L13.2,36.5 Q12.6,36.7 12,36.5 L1.2,33.3 Q0.5,33 0.5,32.3 Z" fill="#e9dfc0"/><path d="M0.5,9 L21.5,0.5 L34.6,6.5 L13.1,12.6 Z" fill="#f6f0de"/><path d="M13.1,12.6 L34.6,6.5 L34.6,28 L12.8,36.6 Z" fill="url(#srvSide)"/><path d="M0.5,9 Q0.5,8 1.5,7.6 L20,0.6 Q21.5,0.2 23,0.8 L33.8,5.8 Q34.6,6.3 34.6,7.2 L34.6,27.8 Q34.6,28.4 34,28.7 L13.2,36.5 Q12.6,36.7 12,36.5 L1.2,33.3 Q0.5,33 0.5,32.3 Z" fill="none" stroke="#2a2420" stroke-width="1.3" stroke-linejoin="round"/><path d="M1,9.2 L13.1,12.6 L34,6.6" fill="none" stroke="#fff" stroke-width="0.6" opacity="0.7"/><ellipse cx="3.8" cy="15.3" rx="1.7" ry="0.9" fill="#2a2420"/><ellipse cx="9" cy="17.2" rx="1.7" ry="0.9" fill="#2a2420"/><path d="M1.5,18.6 L12.3,21.8" stroke="#2a2420" stroke-width="0.9"/><ellipse cx="6" cy="25.5" rx="2.3" ry="1.7" fill="none" stroke="#b8aa88" stroke-width="0.7"/><path d="M1.8,29 L11.8,31.8 L11.8,35 L1.8,32.4 Z" fill="#141010"/></g><g transform="translate(375,159) scale(0.7)"><path d="M0.5,9 Q0.5,8 1.5,7.6 L20,0.6 Q21.5,0.2 23,0.8 L33.8,5.8 Q34.6,6.3 34.6,7.2 L34.6,27.8 Q34.6,28.4 34,28.7 L13.2,36.5 Q12.6,36.7 12,36.5 L1.2,33.3 Q0.5,33 0.5,32.3 Z" fill="#e9dfc0"/><path d="M0.5,9 L21.5,0.5 L34.6,6.5 L13.1,12.6 Z" fill="#f6f0de"/><path d="M13.1,12.6 L34.6,6.5 L34.6,28 L12.8,36.6 Z" fill="url(#srvSide)"/><path d="M0.5,9 Q0.5,8 1.5,7.6 L20,0.6 Q21.5,0.2 23,0.8 L33.8,5.8 Q34.6,6.3 34.6,7.2 L34.6,27.8 Q34.6,28.4 34,28.7 L13.2,36.5 Q12.6,36.7 12,36.5 L1.2,33.3 Q0.5,33 0.5,32.3 Z" fill="none" stroke="#2a2420" stroke-width="1.3" stroke-linejoin="round"/><path d="M1,9.2 L13.1,12.6 L34,6.6" fill="none" stroke="#fff" stroke-width="0.6" opacity="0.7"/><ellipse cx="3.8" cy="15.3" rx="1.7" ry="0.9" fill="#2a2420"/><ellipse cx="9" cy="17.2" rx="1.7" ry="0.9" fill="#2a2420"/><path d="M1.5,18.6 L12.3,21.8" stroke="#2a2420" stroke-width="0.9"/><ellipse cx="6" cy="25.5" rx="2.3" ry="1.7" fill="none" stroke="#b8aa88" stroke-width="0.7"/><path d="M1.8,29 L11.8,31.8 L11.8,35 L1.8,32.4 Z" fill="#141010"/></g><g transform="translate(384.8,181.1) scale(0.7)"><path d="M0.5,9 Q0.5,8 1.5,7.6 L20,0.6 Q21.5,0.2 23,0.8 L33.8,5.8 Q34.6,6.3 34.6,7.2 L34.6,27.8 Q34.6,28.4 34,28.7 L13.2,36.5 Q12.6,36.7 12,36.5 L1.2,33.3 Q0.5,33 0.5,32.3 Z" fill="#e9dfc0"/><path d="M0.5,9 L21.5,0.5 L34.6,6.5 L13.1,12.6 Z" fill="#f6f0de"/><path d="M13.1,12.6 L34.6,6.5 L34.6,28 L12.8,36.6 Z" fill="url(#srvSide)"/><path d="M0.5,9 Q0.5,8 1.5,7.6 L20,0.6 Q21.5,0.2 23,0.8 L33.8,5.8 Q34.6,6.3 34.6,7.2 L34.6,27.8 Q34.6,28.4 34,28.7 L13.2,36.5 Q12.6,36.7 12,36.5 L1.2,33.3 Q0.5,33 0.5,32.3 Z" fill="none" stroke="#2a2420" stroke-width="1.3" stroke-linejoin="round"/><path d="M1,9.2 L13.1,12.6 L34,6.6" fill="none" stroke="#fff" stroke-width="0.6" opacity="0.7"/><ellipse cx="3.8" cy="15.3" rx="1.7" ry="0.9" fill="#2a2420"/><ellipse cx="9" cy="17.2" rx="1.7" ry="0.9" fill="#2a2420"/><path d="M1.5,18.6 L12.3,21.8" stroke="#2a2420" stroke-width="0.9"/><ellipse cx="6" cy="25.5" rx="2.3" ry="1.7" fill="none" stroke="#b8aa88" stroke-width="0.7"/><path d="M1.8,29 L11.8,31.8 L11.8,35 L1.8,32.4 Z" fill="#141010"/></g><g transform="translate(384.8,163.2) scale(0.7)"><path d="M0.5,9 Q0.5,8 1.5,7.6 L20,0.6 Q21.5,0.2 23,0.8 L33.8,5.8 Q34.6,6.3 34.6,7.2 L34.6,27.8 Q34.6,28.4 34,28.7 L13.2,36.5 Q12.6,36.7 12,36.5 L1.2,33.3 Q0.5,33 0.5,32.3 Z" fill="#e9dfc0"/><path d="M0.5,9 L21.5,0.5 L34.6,6.5 L13.1,12.6 Z" fill="#f6f0de"/><path d="M13.1,12.6 L34.6,6.5 L34.6,28 L12.8,36.6 Z" fill="url(#srvSide)"/><path d="M0.5,9 Q0.5,8 1.5,7.6 L20,0.6 Q21.5,0.2 23,0.8 L33.8,5.8 Q34.6,6.3 34.6,7.2 L34.6,27.8 Q34.6,28.4 34,28.7 L13.2,36.5 Q12.6,36.7 12,36.5 L1.2,33.3 Q0.5,33 0.5,32.3 Z" fill="none" stroke="#2a2420" stroke-width="1.3" stroke-linejoin="round"/><path d="M1,9.2 L13.1,12.6 L34,6.6" fill="none" stroke="#fff" stroke-width="0.6" opacity="0.7"/><ellipse cx="3.8" cy="15.3" rx="1.7" ry="0.9" fill="#2a2420"/><ellipse cx="9" cy="17.2" rx="1.7" ry="0.9" fill="#2a2420"/><path d="M1.5,18.6 L12.3,21.8" stroke="#2a2420" stroke-width="0.9"/><ellipse cx="6" cy="25.5" rx="2.3" ry="1.7" fill="none" stroke="#b8aa88" stroke-width="0.7"/><path d="M1.8,29 L11.8,31.8 L11.8,35 L1.8,32.4 Z" fill="#141010"/></g></g>
<g transform="translate(59.5,0)"><g transform="translate(375,177) scale(0.7)"><path d="M0.5,9 Q0.5,8 1.5,7.6 L20,0.6 Q21.5,0.2 23,0.8 L33.8,5.8 Q34.6,6.3 34.6,7.2 L34.6,27.8 Q34.6,28.4 34,28.7 L13.2,36.5 Q12.6,36.7 12,36.5 L1.2,33.3 Q0.5,33 0.5,32.3 Z" fill="#e9dfc0"/><path d="M0.5,9 L21.5,0.5 L34.6,6.5 L13.1,12.6 Z" fill="#f6f0de"/><path d="M13.1,12.6 L34.6,6.5 L34.6,28 L12.8,36.6 Z" fill="url(#srvSide)"/><path d="M0.5,9 Q0.5,8 1.5,7.6 L20,0.6 Q21.5,0.2 23,0.8 L33.8,5.8 Q34.6,6.3 34.6,7.2 L34.6,27.8 Q34.6,28.4 34,28.7 L13.2,36.5 Q12.6,36.7 12,36.5 L1.2,33.3 Q0.5,33 0.5,32.3 Z" fill="none" stroke="#2a2420" stroke-width="1.3" stroke-linejoin="round"/><path d="M1,9.2 L13.1,12.6 L34,6.6" fill="none" stroke="#fff" stroke-width="0.6" opacity="0.7"/><ellipse cx="3.8" cy="15.3" rx="1.7" ry="0.9" fill="#2a2420"/><ellipse cx="9" cy="17.2" rx="1.7" ry="0.9" fill="#2a2420"/><path d="M1.5,18.6 L12.3,21.8" stroke="#2a2420" stroke-width="0.9"/><ellipse cx="6" cy="25.5" rx="2.3" ry="1.7" fill="none" stroke="#b8aa88" stroke-width="0.7"/><path d="M1.8,29 L11.8,31.8 L11.8,35 L1.8,32.4 Z" fill="#141010"/></g><g transform="translate(375,159) scale(0.7)"><path d="M0.5,9 Q0.5,8 1.5,7.6 L20,0.6 Q21.5,0.2 23,0.8 L33.8,5.8 Q34.6,6.3 34.6,7.2 L34.6,27.8 Q34.6,28.4 34,28.7 L13.2,36.5 Q12.6,36.7 12,36.5 L1.2,33.3 Q0.5,33 0.5,32.3 Z" fill="#e9dfc0"/><path d="M0.5,9 L21.5,0.5 L34.6,6.5 L13.1,12.6 Z" fill="#f6f0de"/><path d="M13.1,12.6 L34.6,6.5 L34.6,28 L12.8,36.6 Z" fill="url(#srvSide)"/><path d="M0.5,9 Q0.5,8 1.5,7.6 L20,0.6 Q21.5,0.2 23,0.8 L33.8,5.8 Q34.6,6.3 34.6,7.2 L34.6,27.8 Q34.6,28.4 34,28.7 L13.2,36.5 Q12.6,36.7 12,36.5 L1.2,33.3 Q0.5,33 0.5,32.3 Z" fill="none" stroke="#2a2420" stroke-width="1.3" stroke-linejoin="round"/><path d="M1,9.2 L13.1,12.6 L34,6.6" fill="none" stroke="#fff" stroke-width="0.6" opacity="0.7"/><ellipse cx="3.8" cy="15.3" rx="1.7" ry="0.9" fill="#2a2420"/><ellipse cx="9" cy="17.2" rx="1.7" ry="0.9" fill="#2a2420"/><path d="M1.5,18.6 L12.3,21.8" stroke="#2a2420" stroke-width="0.9"/><ellipse cx="6" cy="25.5" rx="2.3" ry="1.7" fill="none" stroke="#b8aa88" stroke-width="0.7"/><path d="M1.8,29 L11.8,31.8 L11.8,35 L1.8,32.4 Z" fill="#141010"/></g><g transform="translate(384.8,181.1) scale(0.7)"><path d="M0.5,9 Q0.5,8 1.5,7.6 L20,0.6 Q21.5,0.2 23,0.8 L33.8,5.8 Q34.6,6.3 34.6,7.2 L34.6,27.8 Q34.6,28.4 34,28.7 L13.2,36.5 Q12.6,36.7 12,36.5 L1.2,33.3 Q0.5,33 0.5,32.3 Z" fill="#e9dfc0"/><path d="M0.5,9 L21.5,0.5 L34.6,6.5 L13.1,12.6 Z" fill="#f6f0de"/><path d="M13.1,12.6 L34.6,6.5 L34.6,28 L12.8,36.6 Z" fill="url(#srvSide)"/><path d="M0.5,9 Q0.5,8 1.5,7.6 L20,0.6 Q21.5,0.2 23,0.8 L33.8,5.8 Q34.6,6.3 34.6,7.2 L34.6,27.8 Q34.6,28.4 34,28.7 L13.2,36.5 Q12.6,36.7 12,36.5 L1.2,33.3 Q0.5,33 0.5,32.3 Z" fill="none" stroke="#2a2420" stroke-width="1.3" stroke-linejoin="round"/><path d="M1,9.2 L13.1,12.6 L34,6.6" fill="none" stroke="#fff" stroke-width="0.6" opacity="0.7"/><ellipse cx="3.8" cy="15.3" rx="1.7" ry="0.9" fill="#2a2420"/><ellipse cx="9" cy="17.2" rx="1.7" ry="0.9" fill="#2a2420"/><path d="M1.5,18.6 L12.3,21.8" stroke="#2a2420" stroke-width="0.9"/><ellipse cx="6" cy="25.5" rx="2.3" ry="1.7" fill="none" stroke="#b8aa88" stroke-width="0.7"/><path d="M1.8,29 L11.8,31.8 L11.8,35 L1.8,32.4 Z" fill="#141010"/></g><g transform="translate(384.8,163.2) scale(0.7)"><path d="M0.5,9 Q0.5,8 1.5,7.6 L20,0.6 Q21.5,0.2 23,0.8 L33.8,5.8 Q34.6,6.3 34.6,7.2 L34.6,27.8 Q34.6,28.4 34,28.7 L13.2,36.5 Q12.6,36.7 12,36.5 L1.2,33.3 Q0.5,33 0.5,32.3 Z" fill="#e9dfc0"/><path d="M0.5,9 L21.5,0.5 L34.6,6.5 L13.1,12.6 Z" fill="#f6f0de"/><path d="M13.1,12.6 L34.6,6.5 L34.6,28 L12.8,36.6 Z" fill="url(#srvSide)"/><path d="M0.5,9 Q0.5,8 1.5,7.6 L20,0.6 Q21.5,0.2 23,0.8 L33.8,5.8 Q34.6,6.3 34.6,7.2 L34.6,27.8 Q34.6,28.4 34,28.7 L13.2,36.5 Q12.6,36.7 12,36.5 L1.2,33.3 Q0.5,33 0.5,32.3 Z" fill="none" stroke="#2a2420" stroke-width="1.3" stroke-linejoin="round"/><path d="M1,9.2 L13.1,12.6 L34,6.6" fill="none" stroke="#fff" stroke-width="0.6" opacity="0.7"/><ellipse cx="3.8" cy="15.3" rx="1.7" ry="0.9" fill="#2a2420"/><ellipse cx="9" cy="17.2" rx="1.7" ry="0.9" fill="#2a2420"/><path d="M1.5,18.6 L12.3,21.8" stroke="#2a2420" stroke-width="0.9"/><ellipse cx="6" cy="25.5" rx="2.3" ry="1.7" fill="none" stroke="#b8aa88" stroke-width="0.7"/><path d="M1.8,29 L11.8,31.8 L11.8,35 L1.8,32.4 Z" fill="#141010"/></g></g>
<path d="M492,195 L492,214" stroke="#2e2828" stroke-width="1.2"/>
<g transform="translate(477.6,159) scale(1.03)"><path d="M0.5,9 Q0.5,8 1.5,7.6 L20,0.6 Q21.5,0.2 23,0.8 L33.8,5.8 Q34.6,6.3 34.6,7.2 L34.6,27.8 Q34.6,28.4 34,28.7 L13.2,36.5 Q12.6,36.7 12,36.5 L1.2,33.3 Q0.5,33 0.5,32.3 Z" fill="#e9dfc0"/><path d="M0.5,9 L21.5,0.5 L34.6,6.5 L13.1,12.6 Z" fill="#f6f0de"/><path d="M13.1,12.6 L34.6,6.5 L34.6,28 L12.8,36.6 Z" fill="url(#srvSide)"/><path d="M0.5,9 Q0.5,8 1.5,7.6 L20,0.6 Q21.5,0.2 23,0.8 L33.8,5.8 Q34.6,6.3 34.6,7.2 L34.6,27.8 Q34.6,28.4 34,28.7 L13.2,36.5 Q12.6,36.7 12,36.5 L1.2,33.3 Q0.5,33 0.5,32.3 Z" fill="none" stroke="#2a2420" stroke-width="1.3" stroke-linejoin="round"/><path d="M1,9.2 L13.1,12.6 L34,6.6" fill="none" stroke="#fff" stroke-width="0.6" opacity="0.7"/><ellipse cx="3.8" cy="15.3" rx="1.7" ry="0.9" fill="#2a2420"/><ellipse cx="9" cy="17.2" rx="1.7" ry="0.9" fill="#2a2420"/><path d="M1.5,18.6 L12.3,21.8" stroke="#2a2420" stroke-width="0.9"/><ellipse cx="6" cy="25.5" rx="2.3" ry="1.7" fill="none" stroke="#b8aa88" stroke-width="0.7"/><path d="M1.8,29 L11.8,31.8 L11.8,35 L1.8,32.4 Z" fill="#141010"/></g>
<path d="M555.6,195 L555.6,214" stroke="#2e2828" stroke-width="1.2"/>
<g transform="translate(539,159) scale(1.03)"><path d="M0.5,9 Q0.5,8 1.5,7.6 L20,0.6 Q21.5,0.2 23,0.8 L33.8,5.8 Q34.6,6.3 34.6,7.2 L34.6,27.8 Q34.6,28.4 34,28.7 L13.2,36.5 Q12.6,36.7 12,36.5 L1.2,33.3 Q0.5,33 0.5,32.3 Z" fill="#e9dfc0"/><path d="M0.5,9 L21.5,0.5 L34.6,6.5 L13.1,12.6 Z" fill="#f6f0de"/><path d="M13.1,12.6 L34.6,6.5 L34.6,28 L12.8,36.6 Z" fill="url(#srvSide)"/><path d="M0.5,9 Q0.5,8 1.5,7.6 L20,0.6 Q21.5,0.2 23,0.8 L33.8,5.8 Q34.6,6.3 34.6,7.2 L34.6,27.8 Q34.6,28.4 34,28.7 L13.2,36.5 Q12.6,36.7 12,36.5 L1.2,33.3 Q0.5,33 0.5,32.3 Z" fill="none" stroke="#2a2420" stroke-width="1.3" stroke-linejoin="round"/><path d="M1,9.2 L13.1,12.6 L34,6.6" fill="none" stroke="#fff" stroke-width="0.6" opacity="0.7"/><ellipse cx="3.8" cy="15.3" rx="1.7" ry="0.9" fill="#2a2420"/><ellipse cx="9" cy="17.2" rx="1.7" ry="0.9" fill="#2a2420"/><path d="M1.5,18.6 L12.3,21.8" stroke="#2a2420" stroke-width="0.9"/><ellipse cx="6" cy="25.5" rx="2.3" ry="1.7" fill="none" stroke="#b8aa88" stroke-width="0.7"/><path d="M1.8,29 L11.8,31.8 L11.8,35 L1.8,32.4 Z" fill="#141010"/></g>
<path d="M604.4,195 L604.4,214" stroke="#2e2828" stroke-width="1.2"/>
<g transform="translate(587.6,159) scale(1.03)"><path d="M0.5,9 Q0.5,8 1.5,7.6 L20,0.6 Q21.5,0.2 23,0.8 L33.8,5.8 Q34.6,6.3 34.6,7.2 L34.6,27.8 Q34.6,28.4 34,28.7 L13.2,36.5 Q12.6,36.7 12,36.5 L1.2,33.3 Q0.5,33 0.5,32.3 Z" fill="#e9dfc0"/><path d="M0.5,9 L21.5,0.5 L34.6,6.5 L13.1,12.6 Z" fill="#f6f0de"/><path d="M13.1,12.6 L34.6,6.5 L34.6,28 L12.8,36.6 Z" fill="url(#srvSide)"/><path d="M0.5,9 Q0.5,8 1.5,7.6 L20,0.6 Q21.5,0.2 23,0.8 L33.8,5.8 Q34.6,6.3 34.6,7.2 L34.6,27.8 Q34.6,28.4 34,28.7 L13.2,36.5 Q12.6,36.7 12,36.5 L1.2,33.3 Q0.5,33 0.5,32.3 Z" fill="none" stroke="#2a2420" stroke-width="1.3" stroke-linejoin="round"/><path d="M1,9.2 L13.1,12.6 L34,6.6" fill="none" stroke="#fff" stroke-width="0.6" opacity="0.7"/><ellipse cx="3.8" cy="15.3" rx="1.7" ry="0.9" fill="#2a2420"/><ellipse cx="9" cy="17.2" rx="1.7" ry="0.9" fill="#2a2420"/><path d="M1.5,18.6 L12.3,21.8" stroke="#2a2420" stroke-width="0.9"/><ellipse cx="6" cy="25.5" rx="2.3" ry="1.7" fill="none" stroke="#b8aa88" stroke-width="0.7"/><path d="M1.8,29 L11.8,31.8 L11.8,35 L1.8,32.4 Z" fill="#141010"/></g>
<ellipse cx="507.2" cy="190.2" rx="8.7" ry="6.786" fill="#fafafa" stroke="#777" stroke-width="0.6"/><path d="M504.9,183.714 L509.5,183.714 L508.59999999999997,187.79999999999998 L505.8,187.79999999999998 Z" fill="#e81818"/><path d="M504.9,196.68599999999998 L509.5,196.68599999999998 L508.59999999999997,192.6 L505.8,192.6 Z" fill="#e81818"/><path d="M498.8,188.29999999999998 L498.8,192.1 L504.0,191.39999999999998 L504.0,189.0 Z" fill="#e81818"/><path d="M515.6,188.29999999999998 L515.6,192.1 L510.4,191.39999999999998 L510.4,189.0 Z" fill="#e81818"/><ellipse cx="507.2" cy="190.2" rx="3.3" ry="2.4" fill="#5a6468"/><path d="M504.59999999999997,190.79999999999998 L509.8,188.79999999999998 L509.59999999999997,189.79999999999998 L504.8,191.6 Z" fill="#e8dcb0"/>
<ellipse cx="568.3" cy="190.6" rx="8.7" ry="6.786" fill="#fafafa" stroke="#777" stroke-width="0.6"/><path d="M566.0,184.114 L570.5999999999999,184.114 L569.6999999999999,188.2 L566.9,188.2 Z" fill="#e81818"/><path d="M566.0,197.08599999999998 L570.5999999999999,197.08599999999998 L569.6999999999999,193.0 L566.9,193.0 Z" fill="#e81818"/><path d="M559.8999999999999,188.7 L559.8999999999999,192.5 L565.0999999999999,191.79999999999998 L565.0999999999999,189.4 Z" fill="#e81818"/><path d="M576.7,188.7 L576.7,192.5 L571.5,191.79999999999998 L571.5,189.4 Z" fill="#e81818"/><ellipse cx="568.3" cy="190.6" rx="3.3" ry="2.4" fill="#5a6468"/><path d="M565.6999999999999,191.2 L570.9,189.2 L570.6999999999999,190.2 L565.9,192.0 Z" fill="#e8dcb0"/>
<g transform="translate(613.7,184.3) scale(1.0)"><path d="M0.5,5 L4,1.5 L13,0.5 L11,5 Z" fill="#f4f4f4" stroke="#222" stroke-width="0.8" stroke-linejoin="round"/><path d="M0.5,5 L17,5 L17,13 L1.5,13 Q0.5,12 0.5,10 Z" fill="#fff" stroke="#222" stroke-width="1"/><path d="M5,5 L5,13 M10.5,5 L10.5,13" stroke="#222" stroke-width="0.9"/></g>
<path d="M660,194 L660,214" stroke="#2e2828" stroke-width="1.2"/>
<g transform="translate(644.3,172.2)"><rect x="0" y="0" width="36" height="16.5" fill="#7a6a64"/><rect x="1" y="1" width="34" height="14.5" fill="#1ea6e6"/><path d="M1,1 L19,1 L24,15.5 L1,15.5 Z" fill="#56bdec"/><path d="M3,4 L6,5.5 L3,6" stroke="#fff" stroke-width="0.6" fill="none"/><rect x="0" y="16.3" width="36" height="2.3" fill="#f6f6f6"/><rect x="0" y="18.2" width="36" height="0.8" fill="#cfcfcf"/><rect x="33" y="16.8" width="2" height="1.3" fill="#f0c000"/><rect x="12" y="19" width="12" height="2.3" fill="#f2f2f2"/><rect x="13" y="19.8" width="10" height="0.6" fill="#aaa"/><ellipse cx="18" cy="22.5" rx="10" ry="1.3" fill="#fafafa"/><rect x="10" y="22.3" width="16" height="0.6" fill="#999"/></g>
<path d="M709.6,194 L709.6,214" stroke="#2e2828" stroke-width="1.2"/>
<g transform="translate(689.8,172.2)"><rect x="0" y="0" width="36" height="16.5" fill="#7a6a64"/><rect x="1" y="1" width="34" height="14.5" fill="#1ea6e6"/><path d="M1,1 L19,1 L24,15.5 L1,15.5 Z" fill="#56bdec"/><path d="M3,4 L6,5.5 L3,6" stroke="#fff" stroke-width="0.6" fill="none"/><rect x="0" y="16.3" width="36" height="2.3" fill="#f6f6f6"/><rect x="0" y="18.2" width="36" height="0.8" fill="#cfcfcf"/><rect x="33" y="16.8" width="2" height="1.3" fill="#f0c000"/><rect x="12" y="19" width="12" height="2.3" fill="#f2f2f2"/><rect x="13" y="19.8" width="10" height="0.6" fill="#aaa"/><ellipse cx="18" cy="22.5" rx="10" ry="1.3" fill="#fafafa"/><rect x="10" y="22.3" width="16" height="0.6" fill="#999"/></g>
<path d="M767.5,194 L767.5,214" stroke="#2e2828" stroke-width="1.2"/>
<g transform="translate(748.8,172.2)"><rect x="0" y="0" width="36" height="16.5" fill="#7a6a64"/><rect x="1" y="1" width="34" height="14.5" fill="#1ea6e6"/><path d="M1,1 L19,1 L24,15.5 L1,15.5 Z" fill="#56bdec"/><path d="M3,4 L6,5.5 L3,6" stroke="#fff" stroke-width="0.6" fill="none"/><rect x="0" y="16.3" width="36" height="2.3" fill="#f6f6f6"/><rect x="0" y="18.2" width="36" height="0.8" fill="#cfcfcf"/><rect x="33" y="16.8" width="2" height="1.3" fill="#f0c000"/><rect x="12" y="19" width="12" height="2.3" fill="#f2f2f2"/><rect x="13" y="19.8" width="10" height="0.6" fill="#aaa"/><ellipse cx="18" cy="22.5" rx="10" ry="1.3" fill="#fafafa"/><rect x="10" y="22.3" width="16" height="0.6" fill="#999"/></g>
<ellipse cx="731.2" cy="180.3" rx="2.5" ry="2.1" fill="#111"/><ellipse cx="737.6" cy="180.3" rx="2.5" ry="2.1" fill="#111"/><ellipse cx="744" cy="180.3" rx="2.5" ry="2.1" fill="#111"/>
<path d="M306.4,214 L306.4,224" stroke="#2e2828" stroke-width="1.2"/>
<path d="M559.6,214 L559.6,224" stroke="#2e2828" stroke-width="1.2"/>
<path d="M365,232.6 L512,232.6 M370,237.4 L508,237.4" stroke="#2a2222" stroke-width="1.3"/>
<g transform="translate(246,223.4)"><path d="M18,0 L108,0 L127,14.6 L127,25 Q127,28.2 124,28.2 L3,28.2 Q0,28.2 0,25 L0,14.6 Z" fill="#1c1616"/><path d="M18,0 L108,0 L127,14.6 L0,14.6 Z" fill="url(#swTop)"/><path d="M0,14.6 L127,14.6 L127,25 Q127,28.2 124,28.2 L3,28.2 Q0,28.2 0,25 Z" fill="url(#swFront)"/><path d="M0,14.6 L127,14.6" stroke="#0c0808" stroke-width="1"/><rect x="15.6" y="16.8" width="98" height="2.6" fill="#6890b4"/><rect x="15.6" y="19.4" width="98" height="0.8" fill="#1a2a3a"/><rect x="14" y="22.5" width="5" height="3.5" fill="#111"/><rect x="83" y="22.5" width="5" height="3" fill="#333"/><rect x="91" y="22.5" width="4" height="3" fill="#333"/></g>
<g transform="translate(505.6,223.4)"><path d="M18,0 L108,0 L127,14.6 L127,25 Q127,28.2 124,28.2 L3,28.2 Q0,28.2 0,25 L0,14.6 Z" fill="#1c1616"/><path d="M18,0 L108,0 L127,14.6 L0,14.6 Z" fill="url(#swTop)"/><path d="M0,14.6 L127,14.6 L127,25 Q127,28.2 124,28.2 L3,28.2 Q0,28.2 0,25 Z" fill="url(#swFront)"/><path d="M0,14.6 L127,14.6" stroke="#0c0808" stroke-width="1"/><rect x="15.6" y="16.8" width="98" height="2.6" fill="#6890b4"/><rect x="15.6" y="19.4" width="98" height="0.8" fill="#1a2a3a"/><rect x="14" y="22.5" width="5" height="3.5" fill="#111"/><rect x="83" y="22.5" width="5" height="3" fill="#333"/><rect x="91" y="22.5" width="4" height="3" fill="#333"/></g>
<path d="M283.6,251 L283.6,263.6 L171.6,263.6 L171.6,279" stroke="#e01818" stroke-width="2" fill="none"/>
<path d="M344.6,251 L344.6,263.6 L531.7,263.6 L531.7,279" stroke="#e01818" stroke-width="2" fill="none"/>
<path d="M539.2,251 L539.2,269 L341,269 L341,279" stroke="#18a040" stroke-width="2" fill="none"/>
<path d="M611,251 L611,269 L702.6,269 L702.6,279" stroke="#18a040" stroke-width="2" fill="none"/>
<ellipse cx="252.4" cy="332.6" rx="145.6" ry="47.4" fill="none" stroke="#6f66c2" stroke-width="1.35"/>
<ellipse cx="613" cy="328.6" rx="146.5" ry="48" fill="none" stroke="#6f66c2" stroke-width="1.35"/>
<path d="M133.75,380 L92.3,408" stroke="#111" stroke-width="1.6"/>
<path d="M142.5,380 L154.2,406.9" stroke="#111" stroke-width="1.6"/>
<path d="M146,380 L208.2,415.3" stroke="#111" stroke-width="1.6"/>
<path d="M276,389 L265.3,411.2" stroke="#111" stroke-width="1.6"/>
<path d="M284,389 L306,414.6" stroke="#111" stroke-width="1.6"/>
<path d="M374,367 L341.4,414.1" stroke="#111" stroke-width="1.6"/>
<path d="M382,367 L398.75,408.2" stroke="#111" stroke-width="1.6"/>
<path d="M471,360.7 L462.9,410.5" stroke="#111" stroke-width="1.6"/>
<path d="M475.3,360.7 L503,410.5" stroke="#111" stroke-width="1.6"/>
<path d="M667,389 L651,413.3" stroke="#111" stroke-width="1.6"/>
<path d="M673,389 L708.4,417" stroke="#111" stroke-width="1.6"/>
<path d="M751.6,361 L758.7,412.3" stroke="#111" stroke-width="1.6"/>
<g transform="translate(65.8,408)"><rect x="0.6" y="0.6" width="28" height="27" rx="1.2" fill="#fff" stroke="#1a1a1a" stroke-width="1.3"/><rect x="0.6" y="5.4" width="28" height="6.1" fill="#1e1a1a"/><path d="M7.5,7.7 L25.3,7.7 L24.5,11.2 L8.5,11.2 Z" fill="#3a3434"/><rect x="10" y="10.2" width="13" height="1" fill="#c8c8c8"/><rect x="0.6" y="5.4" width="5.6" height="22.2" fill="#222"/><rect x="1.8" y="18.5" width="2.2" height="2" fill="#ddd"/><rect x="1.8" y="22.5" width="3" height="1" fill="#bbb"/><rect x="1.5" y="25" width="3.5" height="1.6" fill="#ddd"/><path d="M24.2,18.5 L24.2,26" stroke="#222" stroke-width="1"/><path d="M24.2,19.5 L26,21.8 L24.2,24 L22.4,21.8 Z" fill="#222"/></g>
<g transform="translate(98.5,413.75) scale(1.0)"><path d="M14.5,15.5 Q17,17.5 22,17 Q27.5,16.5 27.3,14 Q27,12 24,11" fill="#fff" stroke="#222" stroke-width="0.95" stroke-linejoin="round"/><path d="M19,13 L19,16" stroke="#555" stroke-width="0.8"/><path d="M0.3,15.9 L4.9,12.7 L16.2,18.5 L11.2,20.7 Z" fill="#fff" stroke="#222" stroke-width="0.95" stroke-linejoin="round"/><path d="M11.5,1.6 Q11.5,0.6 12.6,0.9 L23.2,4.6 Q23.9,5 23.8,5.8 L23.2,14.2 Q23,14.9 22.3,14.7 L12.3,11.3 Q11.5,11 11.5,10.2 Z" fill="#fff" stroke="#222" stroke-width="0.95" stroke-linejoin="round"/><path d="M11.6,1.5 L11.6,10.5" stroke="#111" stroke-width="1.8"/><path d="M13.4,2.9 L22.3,6.1 L21.8,13.2 L13.4,10.3 Z" fill="#f0f0f0" stroke="#666" stroke-width="0.6"/></g>
<g transform="translate(133,415)"><path d="M6,0.3 L29,0.3 Q34,0.3 34,6 Q34,12 29,12 L6,12 Q0.5,12 0.5,6 Q0.5,0.3 6,0.3 Z" fill="url(#camGrad)" stroke="#444" stroke-width="0.8"/><path d="M3,2.5 Q0.3,5 0.8,8.5" fill="none" stroke="#222" stroke-width="1.3"/><ellipse cx="8.8" cy="7" rx="5.3" ry="5.1" fill="url(#camBall)" stroke="#333" stroke-width="0.8"/></g>
<g transform="translate(188.3,415.3)"><path d="M0,4.1 L4.7,0 L50.2,0 L50.2,13.7 L43.7,17.2 L0,17.2 Z" fill="#1a1a1a"/><rect x="0.8" y="4.8" width="42.5" height="11.8" fill="#fff"/><rect x="5.022222222222222" y="4.8" width="1" height="11.8" fill="#888"/><rect x="9.744444444444445" y="4.8" width="1" height="11.8" fill="#888"/><rect x="14.466666666666667" y="4.8" width="1" height="11.8" fill="#888"/><rect x="19.18888888888889" y="4.8" width="1" height="11.8" fill="#888"/><rect x="23.91111111111111" y="4.8" width="1" height="11.8" fill="#888"/><rect x="28.633333333333333" y="4.8" width="1" height="11.8" fill="#888"/><rect x="33.355555555555554" y="4.8" width="1" height="11.8" fill="#888"/><rect x="38.077777777777776" y="4.8" width="1" height="11.8" fill="#888"/></g>
<g transform="translate(246.7,412.6)"><rect x="0" y="0" width="16.5" height="22" rx="2.8" fill="url(#orangePLC)" stroke="#d85a10" stroke-width="0.6"/><rect x="2.5" y="3.6" width="11.5" height="1.6" rx="0.8" fill="#f8a050" stroke="#d86018" stroke-width="0.4"/><path d="M1.5,9.2 L15.0,9.2" stroke="#d86018" stroke-width="0.5"/><rect x="5.25" y="12.5" width="6" height="3.4" fill="#1a60d0"/></g>
<g transform="translate(264.6,417.4)"><path d="M0.5,1 L4.95,1 L5.9399999999999995,2.4 L16.0,2.4 L16.0,13.2 L0.5,13.2 Z" fill="#f8ecd0" stroke="#d8b888" stroke-width="0.8"/><rect x="1.6500000000000001" y="2.329" width="13.200000000000001" height="4.109999999999999" fill="#6a2c90"/><rect x="1.6500000000000001" y="10.411999999999999" width="13.200000000000001" height="1.644" fill="#4a2a50"/></g>
<g transform="translate(290.3,417.3)"><rect x="0" y="0" width="30.6" height="16.6" fill="#1a1a1a"/><rect x="1" y="3" width="8.6" height="10.6" fill="#fff"/><rect x="11" y="3" width="8.6" height="10.6" fill="#fff"/><rect x="21" y="3" width="8.6" height="10.6" fill="#fff"/><rect x="0.8" y="0.8" width="1.5" height="1.2" fill="#ddd"/><rect x="0.8" y="14.6" width="1.5" height="1.2" fill="#ddd"/><rect x="3.8499999999999996" y="0.8" width="1.5" height="1.2" fill="#ddd"/><rect x="3.8499999999999996" y="14.6" width="1.5" height="1.2" fill="#ddd"/><rect x="6.8999999999999995" y="0.8" width="1.5" height="1.2" fill="#ddd"/><rect x="6.8999999999999995" y="14.6" width="1.5" height="1.2" fill="#ddd"/><rect x="9.95" y="0.8" width="1.5" height="1.2" fill="#ddd"/><rect x="9.95" y="14.6" width="1.5" height="1.2" fill="#ddd"/><rect x="13.0" y="0.8" width="1.5" height="1.2" fill="#ddd"/><rect x="13.0" y="14.6" width="1.5" height="1.2" fill="#ddd"/><rect x="16.05" y="0.8" width="1.5" height="1.2" fill="#ddd"/><rect x="16.05" y="14.6" width="1.5" height="1.2" fill="#ddd"/><rect x="19.099999999999998" y="0.8" width="1.5" height="1.2" fill="#ddd"/><rect x="19.099999999999998" y="14.6" width="1.5" height="1.2" fill="#ddd"/><rect x="22.15" y="0.8" width="1.5" height="1.2" fill="#ddd"/><rect x="22.15" y="14.6" width="1.5" height="1.2" fill="#ddd"/><rect x="25.2" y="0.8" width="1.5" height="1.2" fill="#ddd"/><rect x="25.2" y="14.6" width="1.5" height="1.2" fill="#ddd"/><rect x="28.25" y="0.8" width="1.5" height="1.2" fill="#ddd"/><rect x="28.25" y="14.6" width="1.5" height="1.2" fill="#ddd"/></g>
<g transform="translate(327.9,419.9)"><rect x="0" y="0" width="24.5" height="8.7" fill="#6a9cc4"/><rect x="4.300000000000001" y="0" width="1.2" height="8.7" fill="#d8e4f0"/><rect x="9.200000000000001" y="0" width="1.2" height="8.7" fill="#d8e4f0"/><rect x="14.1" y="0" width="1.2" height="8.7" fill="#d8e4f0"/><rect x="19.0" y="0" width="1.2" height="8.7" fill="#d8e4f0"/><rect x="7.35" y="3.9149999999999996" width="12.25" height="1.1" fill="#40d8ff"/></g>
<g transform="translate(350.7,419.9) scale(1.0)"><path d="M14.5,15.5 Q17,17.5 22,17 Q27.5,16.5 27.3,14 Q27,12 24,11" fill="#fff" stroke="#222" stroke-width="0.95" stroke-linejoin="round"/><path d="M19,13 L19,16" stroke="#555" stroke-width="0.8"/><path d="M0.3,15.9 L4.9,12.7 L16.2,18.5 L11.2,20.7 Z" fill="#fff" stroke="#222" stroke-width="0.95" stroke-linejoin="round"/><path d="M11.5,1.6 Q11.5,0.6 12.6,0.9 L23.2,4.6 Q23.9,5 23.8,5.8 L23.2,14.2 Q23,14.9 22.3,14.7 L12.3,11.3 Q11.5,11 11.5,10.2 Z" fill="#fff" stroke="#222" stroke-width="0.95" stroke-linejoin="round"/><path d="M11.6,1.5 L11.6,10.5" stroke="#111" stroke-width="1.8"/><path d="M13.4,2.9 L22.3,6.1 L21.8,13.2 L13.4,10.3 Z" fill="#f0f0f0" stroke="#666" stroke-width="0.6"/></g>
<g transform="translate(388,408.2)"><rect x="0" y="0" width="29.2" height="30.1" fill="#e4ecb4" stroke="#c8d090" stroke-width="0.5"/><path d="M0,6 L29.2,6 M19,6 L19,30 M0,9 L7,9 M7,9 L7,26 M0,26 L7,26" stroke="#b8c080" stroke-width="0.6" fill="none"/><rect x="6.5" y="1.8" width="5" height="3" fill="#2a5a2a"/><rect x="20" y="1.8" width="5" height="3" fill="#2a5a2a"/><rect x="1.5" y="12" width="3" height="8" fill="#3a6a3a"/><rect x="14" y="9.5" width="3" height="2" fill="#2a4a2a"/><rect x="21" y="9.5" width="3" height="2" fill="#2a4a2a"/><rect x="14" y="24.5" width="3" height="2" fill="#2a4a2a"/><rect x="21" y="24.5" width="3" height="2" fill="#2a4a2a"/><rect x="12.5" y="13" width="5" height="9" rx="2" fill="none" stroke="#c0c890" stroke-width="0.6"/><rect x="19.5" y="13" width="5" height="9" rx="2" fill="none" stroke="#c0c890" stroke-width="0.6"/></g>
<g transform="translate(436.4,413.8)"><rect x="0" y="0" width="25.4" height="8.7" fill="#6a9cc4"/><rect x="4.48" y="0" width="1.2" height="8.7" fill="#d8e4f0"/><rect x="9.56" y="0" width="1.2" height="8.7" fill="#d8e4f0"/><rect x="14.639999999999999" y="0" width="1.2" height="8.7" fill="#d8e4f0"/><rect x="19.72" y="0" width="1.2" height="8.7" fill="#d8e4f0"/><rect x="7.619999999999999" y="3.9149999999999996" width="12.7" height="1.1" fill="#40d8ff"/></g>
<g transform="translate(429.4,419.9) scale(1.0)"><path d="M14.5,15.5 Q17,17.5 22,17 Q27.5,16.5 27.3,14 Q27,12 24,11" fill="#fff" stroke="#222" stroke-width="0.95" stroke-linejoin="round"/><path d="M19,13 L19,16" stroke="#555" stroke-width="0.8"/><path d="M0.3,15.9 L4.9,12.7 L16.2,18.5 L11.2,20.7 Z" fill="#fff" stroke="#222" stroke-width="0.95" stroke-linejoin="round"/><path d="M11.5,1.6 Q11.5,0.6 12.6,0.9 L23.2,4.6 Q23.9,5 23.8,5.8 L23.2,14.2 Q23,14.9 22.3,14.7 L12.3,11.3 Q11.5,11 11.5,10.2 Z" fill="#fff" stroke="#222" stroke-width="0.95" stroke-linejoin="round"/><path d="M11.6,1.5 L11.6,10.5" stroke="#111" stroke-width="1.8"/><path d="M13.4,2.9 L22.3,6.1 L21.8,13.2 L13.4,10.3 Z" fill="#f0f0f0" stroke="#666" stroke-width="0.6"/></g>
<g transform="translate(463.9,418.1)"><rect x="9" y="0.5" width="14" height="7.5" fill="#e0e0e0" stroke="#c8c8c8" stroke-width="0.5"/><rect x="0.5" y="0.5" width="14" height="16" fill="#e8e8e8" stroke="#c0c0c0" stroke-width="0.6"/><ellipse cx="7" cy="7.5" rx="5" ry="4.5" fill="url(#domeBall)"/></g>
<g transform="translate(490.7,419)"><path d="M0,3 L3,0 L17,0 L19,3 L19,11 L0,11 Z" fill="#f4ecc0" stroke="#b8a870" stroke-width="0.6"/><path d="M1,6 L16,6" stroke="#c8b880" stroke-width="0.6"/><rect x="5" y="5" width="17" height="10" fill="#5a4a28" stroke="#3a2a18" stroke-width="0.6"/><rect x="6.5" y="6.5" width="14" height="7" fill="#7a6a3a"/><ellipse cx="13.5" cy="10" rx="3.5" ry="2.5" fill="#6a1a50"/></g>
<g transform="translate(524,410.3)"><rect x="0" y="0" width="28" height="29" rx="1" fill="url(#tallGrad)" stroke="#a8a498" stroke-width="0.5"/><rect x="11" y="4" width="6.5" height="9" fill="#4a8a3a"/><rect x="11" y="7" width="6.5" height="2.5" fill="#2a2a1a"/><rect x="11" y="20" width="6" height="4" fill="#111"/><circle cx="29" cy="3.0" r="1.1" fill="#333"/><circle cx="29" cy="7.6" r="1.1" fill="#333"/><circle cx="29" cy="12.2" r="1.1" fill="#333"/><circle cx="29" cy="16.799999999999997" r="1.1" fill="#333"/><circle cx="29" cy="21.4" r="1.1" fill="#333"/><circle cx="29" cy="26.0" r="1.1" fill="#333"/></g>
<g transform="translate(592.9,414.6)"><path d="M0.5,1 L7.709999999999999,1 L9.251999999999999,2.4 L25.2,2.4 L25.2,20.5 L0.5,20.5 Z" fill="#f8ecd0" stroke="#d8b888" stroke-width="0.8"/><rect x="2.5700000000000003" y="3.5700000000000003" width="20.560000000000002" height="6.3" fill="#6a2c90"/><rect x="2.5700000000000003" y="15.96" width="20.560000000000002" height="2.52" fill="#4a2a50"/></g>
<g transform="translate(635.4,412.4)"><path d="M0.5,5.7 L11.8,0.5 L34.5,10.1 L34.5,19.7 L23.2,25.9 L0.5,16.2 Z" fill="#f4f4f4" stroke="#1a1a1a" stroke-width="1.1" stroke-linejoin="round"/><path d="M0.5,5.7 L11.8,0.5 L34.5,10.1 L23.2,15.5 Z" fill="#fdfdfd"/><path d="M23.2,15.5 L34.5,10.1 L34.5,19.7 L23.2,25.9 Z" fill="#e0e0e0"/><path d="M0.5,5.7 L11.8,0.5 L34.5,10.1 L34.5,19.7 L23.2,25.9 L0.5,16.2 Z" fill="none" stroke="#1a1a1a" stroke-width="1.1" stroke-linejoin="round"/><path d="M0.5,5.7 L23.2,15.5 L34.5,10.1 M23.2,15.5 L23.2,25.9" fill="none" stroke="#555" stroke-width="0.5"/><path d="M3,9.5 L9,12.2 L9,13.5 L3,10.8 Z" fill="#c8e040"/><path d="M14,13 L21,16 L21,23 L14,20 Z" fill="#b8b8b8"/></g>
<g transform="translate(682.2,415.5)"><rect x="0" y="0.5" width="36" height="21" fill="url(#modGrad)"/><rect x="2.5" y="0" width="12.5" height="3.6" fill="#1a1a1a"/><rect x="11.8" y="3.6" width="1.3" height="4" fill="#333"/><rect x="11.8" y="9" width="1.3" height="3" fill="#333"/><rect x="17.5" y="1.5" width="4.3" height="8" fill="#fbfbfb"/><rect x="25.4" y="1.5" width="4.3" height="8" fill="#fbfbfb"/><rect x="17.5" y="11.5" width="4.3" height="7.8" fill="#fbfbfb"/><rect x="25.4" y="11.5" width="4.3" height="7.8" fill="#fbfbfb"/><path d="M0.8,4 L0.8,20" stroke="#888" stroke-width="1" stroke-dasharray="0.8 0.8"/></g>
<g transform="translate(744.6,414.8)"><rect x="0" y="0" width="16.3" height="22.1" rx="2.8" fill="url(#orangePLC)" stroke="#d85a10" stroke-width="0.6"/><rect x="2.5" y="3.6" width="11.3" height="1.6" rx="0.8" fill="#f8a050" stroke="#d86018" stroke-width="0.4"/><path d="M1.5,9.2 L14.8,9.2" stroke="#d86018" stroke-width="0.5"/><rect x="5.15" y="12.5" width="6" height="3.4" fill="#1a60d0"/></g>
<g transform="translate(762.2,420.1)"><path d="M0.5,1 L4.919999999999999,1 L5.903999999999999,2.4 L15.899999999999999,2.4 L15.899999999999999,13.4 L0.5,13.4 Z" fill="#f8ecd0" stroke="#d8b888" stroke-width="0.8"/><rect x="1.64" y="2.3630000000000004" width="13.12" height="4.17" fill="#6a2c90"/><rect x="1.64" y="10.564" width="13.12" height="1.668" fill="#4a2a50"/></g>
<g transform="translate(158,278.8)"><rect x="1" y="0" width="26" height="26.5" rx="2.5" fill="url(#nodeB)" stroke="#c4c4c4" stroke-width="0.6"/><rect x="0.5" y="3.5" width="2.2" height="20" fill="#9a9080"/><rect x="1.2" y="9" width="1.5" height="8" fill="#2a2a2a"/><rect x="1" y="5" width="1.6" height="2" fill="#b08040"/><rect x="26.5" y="5" width="1.2" height="2" fill="#bbb"/><rect x="26.5" y="18" width="1.2" height="2" fill="#bbb"/><rect x="11" y="8.4" width="7.6" height="4.6" fill="#2a3a44" stroke="#f4f4f4" stroke-width="0.7"/><rect x="9.5" y="16.8" width="5.5" height="1.3" fill="#9a6a28"/><rect x="15.5" y="16.8" width="6" height="1.3" fill="#9a6a28"/><rect x="9.5" y="19.3" width="5.5" height="2.5" fill="#8a6020"/><rect x="16.5" y="19.8" width="4" height="1.8" fill="#1a1a1a"/></g>
<g transform="translate(330,278)"><rect x="1" y="0" width="26" height="26.5" rx="2.5" fill="url(#nodeB)" stroke="#c4c4c4" stroke-width="0.6"/><rect x="0.5" y="3.5" width="2.2" height="20" fill="#9a9080"/><rect x="1.2" y="9" width="1.5" height="8" fill="#2a2a2a"/><rect x="1" y="5" width="1.6" height="2" fill="#b08040"/><rect x="26.5" y="5" width="1.2" height="2" fill="#bbb"/><rect x="26.5" y="18" width="1.2" height="2" fill="#bbb"/><rect x="11" y="8.4" width="7.6" height="4.6" fill="#2a3a44" stroke="#f4f4f4" stroke-width="0.7"/><rect x="9.5" y="16.8" width="5.5" height="1.3" fill="#9a6a28"/><rect x="15.5" y="16.8" width="6" height="1.3" fill="#9a6a28"/><rect x="9.5" y="19.3" width="5.5" height="2.5" fill="#8a6020"/><rect x="16.5" y="19.8" width="4" height="1.8" fill="#1a1a1a"/></g>
<g transform="translate(364,342)"><rect x="1" y="0" width="26" height="26.5" rx="2.5" fill="url(#nodeB)" stroke="#c4c4c4" stroke-width="0.6"/><rect x="0.5" y="3.5" width="2.2" height="20" fill="#9a9080"/><rect x="1.2" y="9" width="1.5" height="8" fill="#2a2a2a"/><rect x="1" y="5" width="1.6" height="2" fill="#b08040"/><rect x="26.5" y="5" width="1.2" height="2" fill="#bbb"/><rect x="26.5" y="18" width="1.2" height="2" fill="#bbb"/><rect x="11" y="8.4" width="7.6" height="4.6" fill="#2a3a44" stroke="#f4f4f4" stroke-width="0.7"/><rect x="9.5" y="16.8" width="5.5" height="1.3" fill="#9a6a28"/><rect x="15.5" y="16.8" width="6" height="1.3" fill="#9a6a28"/><rect x="9.5" y="19.3" width="5.5" height="2.5" fill="#8a6020"/><rect x="16.5" y="19.8" width="4" height="1.8" fill="#1a1a1a"/></g>
<g transform="translate(266,363)"><rect x="1" y="0" width="26" height="26.5" rx="2.5" fill="url(#nodeB)" stroke="#c4c4c4" stroke-width="0.6"/><rect x="0.5" y="3.5" width="2.2" height="20" fill="#9a9080"/><rect x="1.2" y="9" width="1.5" height="8" fill="#2a2a2a"/><rect x="1" y="5" width="1.6" height="2" fill="#b08040"/><rect x="26.5" y="5" width="1.2" height="2" fill="#bbb"/><rect x="26.5" y="18" width="1.2" height="2" fill="#bbb"/><rect x="11" y="8.4" width="7.6" height="4.6" fill="#2a3a44" stroke="#f4f4f4" stroke-width="0.7"/><rect x="9.5" y="16.8" width="5.5" height="1.3" fill="#9a6a28"/><rect x="15.5" y="16.8" width="6" height="1.3" fill="#9a6a28"/><rect x="9.5" y="19.3" width="5.5" height="2.5" fill="#8a6020"/><rect x="16.5" y="19.8" width="4" height="1.8" fill="#1a1a1a"/></g>
<g transform="translate(127,352)"><rect x="1" y="0" width="26" height="26.5" rx="2.5" fill="url(#nodeB)" stroke="#c4c4c4" stroke-width="0.6"/><rect x="0.5" y="3.5" width="2.2" height="20" fill="#9a9080"/><rect x="1.2" y="9" width="1.5" height="8" fill="#2a2a2a"/><rect x="1" y="5" width="1.6" height="2" fill="#b08040"/><rect x="26.5" y="5" width="1.2" height="2" fill="#bbb"/><rect x="26.5" y="18" width="1.2" height="2" fill="#bbb"/><rect x="11" y="8.4" width="7.6" height="4.6" fill="#2a3a44" stroke="#f4f4f4" stroke-width="0.7"/><rect x="9.5" y="16.8" width="5.5" height="1.3" fill="#9a6a28"/><rect x="15.5" y="16.8" width="6" height="1.3" fill="#9a6a28"/><rect x="9.5" y="19.3" width="5.5" height="2.5" fill="#8a6020"/><rect x="16.5" y="19.8" width="4" height="1.8" fill="#1a1a1a"/></g>
<g transform="translate(519.4,278.8)"><rect x="1.5" y="0.2" width="21.5" height="2.2" fill="#333d4a"/><rect x="0.5" y="2.2" width="23" height="23.8" fill="url(#nodeA)"/><rect x="-0.8" y="4" width="2.5" height="1.8" fill="#3a4450"/><rect x="5" y="7.3" width="1.6" height="1.4" fill="#d06020"/><rect x="15.5" y="7" width="4.5" height="1.8" fill="#f0f0f0"/><rect x="8" y="9.5" width="7" height="0.9" fill="#8a6a40"/><rect x="7" y="12.8" width="10" height="2" fill="#111"/><rect x="3" y="15.8" width="18" height="0.6" fill="#7a8696"/><rect x="7.5" y="19" width="9" height="3.6" fill="#ececec"/><rect x="8.5" y="20.3" width="7" height="0.8" fill="#999"/></g>
<g transform="translate(691.3,278.8)"><rect x="1.5" y="0.2" width="21.5" height="2.2" fill="#333d4a"/><rect x="0.5" y="2.2" width="23" height="23.8" fill="url(#nodeA)"/><rect x="-0.8" y="4" width="2.5" height="1.8" fill="#3a4450"/><rect x="5" y="7.3" width="1.6" height="1.4" fill="#d06020"/><rect x="15.5" y="7" width="4.5" height="1.8" fill="#f0f0f0"/><rect x="8" y="9.5" width="7" height="0.9" fill="#8a6a40"/><rect x="7" y="12.8" width="10" height="2" fill="#111"/><rect x="3" y="15.8" width="18" height="0.6" fill="#7a8696"/><rect x="7.5" y="19" width="9" height="3.6" fill="#ececec"/><rect x="8.5" y="20.3" width="7" height="0.8" fill="#999"/></g>
<g transform="translate(734.6,337)"><rect x="1.5" y="0.2" width="21.5" height="2.2" fill="#333d4a"/><rect x="0.5" y="2.2" width="23" height="23.8" fill="url(#nodeA)"/><rect x="-0.8" y="4" width="2.5" height="1.8" fill="#3a4450"/><rect x="5" y="7.3" width="1.6" height="1.4" fill="#d06020"/><rect x="15.5" y="7" width="4.5" height="1.8" fill="#f0f0f0"/><rect x="8" y="9.5" width="7" height="0.9" fill="#8a6a40"/><rect x="7" y="12.8" width="10" height="2" fill="#111"/><rect x="3" y="15.8" width="18" height="0.6" fill="#7a8696"/><rect x="7.5" y="19" width="9" height="3.6" fill="#ececec"/><rect x="8.5" y="20.3" width="7" height="0.8" fill="#999"/></g>
<g transform="translate(658.3,364)"><rect x="1.5" y="0.2" width="21.5" height="2.2" fill="#333d4a"/><rect x="0.5" y="2.2" width="23" height="23.8" fill="url(#nodeA)"/><rect x="-0.8" y="4" width="2.5" height="1.8" fill="#3a4450"/><rect x="5" y="7.3" width="1.6" height="1.4" fill="#d06020"/><rect x="15.5" y="7" width="4.5" height="1.8" fill="#f0f0f0"/><rect x="8" y="9.5" width="7" height="0.9" fill="#8a6a40"/><rect x="7" y="12.8" width="10" height="2" fill="#111"/><rect x="3" y="15.8" width="18" height="0.6" fill="#7a8696"/><rect x="7.5" y="19" width="9" height="3.6" fill="#ececec"/><rect x="8.5" y="20.3" width="7" height="0.8" fill="#999"/></g>
<g transform="translate(558,364)"><rect x="1.5" y="0.2" width="21.5" height="2.2" fill="#333d4a"/><rect x="0.5" y="2.2" width="23" height="23.8" fill="url(#nodeA)"/><rect x="-0.8" y="4" width="2.5" height="1.8" fill="#3a4450"/><rect x="5" y="7.3" width="1.6" height="1.4" fill="#d06020"/><rect x="15.5" y="7" width="4.5" height="1.8" fill="#f0f0f0"/><rect x="8" y="9.5" width="7" height="0.9" fill="#8a6a40"/><rect x="7" y="12.8" width="10" height="2" fill="#111"/><rect x="3" y="15.8" width="18" height="0.6" fill="#7a8696"/><rect x="7.5" y="19" width="9" height="3.6" fill="#ececec"/><rect x="8.5" y="20.3" width="7" height="0.8" fill="#999"/></g>
<g transform="translate(461.6,335)"><rect x="1.5" y="0.2" width="21.5" height="2.2" fill="#333d4a"/><rect x="0.5" y="2.2" width="23" height="23.8" fill="url(#nodeA)"/><rect x="-0.8" y="4" width="2.5" height="1.8" fill="#3a4450"/><rect x="5" y="7.3" width="1.6" height="1.4" fill="#d06020"/><rect x="15.5" y="7" width="4.5" height="1.8" fill="#f0f0f0"/><rect x="8" y="9.5" width="7" height="0.9" fill="#8a6a40"/><rect x="7" y="12.8" width="10" height="2" fill="#111"/><rect x="3" y="15.8" width="18" height="0.6" fill="#7a8696"/><rect x="7.5" y="19" width="9" height="3.6" fill="#ececec"/><rect x="8.5" y="20.3" width="7" height="0.8" fill="#999"/></g>
</svg>
<div class="t" style="left:56.66px;top:21.01px;font-size:11px;font-weight:400;color:#ffffff;transform:scale(0.9488,0.8093);-webkit-text-stroke:0.22px #ffffff">公共信息网</div><div class="t" style="left:121.50px;top:44.31px;font-size:11px;font-weight:400;color:#1a1a1a;transform:scale(0.9630,0.8091);-webkit-text-stroke:0.22px #1a1a1a">信息层核心交换机</div><div class="t" style="left:215.86px;top:44.16px;font-size:11px;font-weight:400;color:#1a1a1a;transform:scale(0.9677,0.8465);-webkit-text-stroke:0.22px #1a1a1a">主域服务器</div><div class="t" style="left:279.76px;top:43.97px;font-size:11px;font-weight:400;color:#1a1a1a;transform:scale(0.9585,0.8667);-webkit-text-stroke:0.22px #1a1a1a">备域服务器</div><div class="t" style="left:341.48px;top:43.97px;font-size:11px;font-weight:400;color:#1a1a1a;transform:scale(1.0417,0.8667);-webkit-text-stroke:0.22px #1a1a1a">OA服务器</div><div class="t" style="left:402.00px;top:43.97px;font-size:11px;font-weight:400;color:#1a1a1a;transform:scale(0.9739,0.8667);-webkit-text-stroke:0.22px #1a1a1a">WEB服务器</div><div class="t" style="left:468.76px;top:43.95px;font-size:11px;font-weight:400;color:#1a1a1a;transform:scale(0.9770,0.8465);-webkit-text-stroke:0.22px #1a1a1a">视频服务器</div><div class="t" style="left:29.49px;top:71.05px;font-size:11px;font-weight:400;color:#1a1a1a;transform:scale(1.0233,0.8372);-webkit-text-stroke:0.22px #1a1a1a">防火墙</div><div class="t" style="left:9.33px;top:116.39px;font-size:14px;font-weight:400;color:#1a1a1a;transform:scale(1.0451,0.8077);-webkit-text-stroke:0.22px #1a1a1a">管理层</div><div class="t" style="left:9.50px;top:134.61px;font-size:14px;font-weight:400;color:#1a1a1a;transform:scale(1.0410,0.7778);-webkit-text-stroke:0.22px #1a1a1a">控制层</div><div class="t" style="left:29.49px;top:162.55px;font-size:11px;font-weight:400;color:#1a1a1a;transform:scale(1.0233,0.8372);-webkit-text-stroke:0.22px #1a1a1a">防火墙</div><div class="t" style="left:29.02px;top:205.32px;font-size:11px;font-weight:400;color:#1a1a1a;transform:scale(0.9828,0.8182);-webkit-text-stroke:0.22px #1a1a1a">网闸（选配）</div><div class="t" style="left:213.00px;top:144.82px;font-size:11px;font-weight:400;color:#1a1a1a;transform:scale(0.9722,0.8182);-webkit-text-stroke:0.22px #1a1a1a">调度台各专业操作站</div><div class="t" style="left:402.96px;top:144.85px;font-size:11px;font-weight:400;color:#1a1a1a;transform:scale(0.9778,0.8372);-webkit-text-stroke:0.22px #1a1a1a">数据库服务器</div><div class="t" style="left:492.76px;top:144.66px;font-size:11px;font-weight:400;color:#1a1a1a;transform:scale(0.9770,0.8571);-webkit-text-stroke:0.22px #1a1a1a">管控服务器</div><div class="t" style="left:573.76px;top:144.85px;font-size:11px;font-weight:400;color:#1a1a1a;transform:scale(0.9655,0.8372);-webkit-text-stroke:0.22px #1a1a1a">病毒库服务器</div><div class="t" style="left:640.20px;top:155.04px;font-size:11px;font-weight:400;color:#1a1a1a;transform:scale(0.9926,0.8381);-webkit-text-stroke:0.22px #1a1a1a">大屏控制器</div><div class="t" style="left:707.56px;top:155.22px;font-size:11px;font-weight:400;color:#1a1a1a;transform:scale(0.9783,0.8186);-webkit-text-stroke:0.22px #1a1a1a">各子系统监控位机</div><div class="t" style="left:411.70px;top:177.64px;font-size:11px;font-weight:400;color:#1a1a1a;transform:scale(0.9721,0.8571);-webkit-text-stroke:0.22px #1a1a1a">热备</div><div class="t" style="left:516.40px;top:178.14px;font-size:11px;font-weight:400;color:#1a1a1a;transform:scale(0.9302,0.8476);-webkit-text-stroke:0.22px #1a1a1a">热备</div><div class="t" style="left:385.60px;top:247.74px;font-size:11px;font-weight:400;color:#1a1a1a;transform:scale(0.9687,0.7955);-webkit-text-stroke:0.22px #1a1a1a">调度室核心交换机</div><div class="t" style="left:196.00px;top:328.87px;font-size:11px;font-weight:400;color:#1a1a1a;transform:scale(0.9725,0.8558);-webkit-text-stroke:0.22px #1a1a1a">地面工业控制光纤环网</div><div class="t" style="left:554.74px;top:323.94px;font-size:11px;font-weight:400;color:#1a1a1a;transform:scale(1.0262,0.9953);-webkit-text-stroke:0.22px #1a1a1a">井下工业控制光纤环网</div><div class="t" style="left:257.63px;top:449.58px;font-size:11px;font-weight:400;color:#1a1a1a;transform:scale(1.0207,0.8636);-webkit-text-stroke:0.22px #1a1a1a">PLC、摄像仪、专业控制器、IP电话等现场控制、通讯设备等</div><div class="t" style="left:152.78px;top:309.38px;font-size:10px;font-weight:normal;color:#2a2a2a;transform:scale(0.9582,0.7158);-webkit-text-stroke:0.22px #2a2a2a">KJJ660(B)</div><div class="t" style="left:325.27px;top:309.18px;font-size:10px;font-weight:normal;color:#2a2a2a;transform:scale(0.9670,0.7368);-webkit-text-stroke:0.22px #2a2a2a">KJJ660(B)</div><div class="t" style="left:349.27px;top:332.18px;font-size:10px;font-weight:normal;color:#2a2a2a;transform:scale(0.9670,0.7368);-webkit-text-stroke:0.22px #2a2a2a">KJJ660(B)</div><div class="t" style="left:259.29px;top:353.98px;font-size:10px;font-weight:normal;color:#2a2a2a;transform:scale(0.9407,0.7158);-webkit-text-stroke:0.22px #2a2a2a">KJJ660(B)</div><div class="t" style="left:119.27px;top:342.98px;font-size:10px;font-weight:normal;color:#2a2a2a;transform:scale(0.9670,0.7158);-webkit-text-stroke:0.22px #2a2a2a">KJJ660(B)</div><div class="t" style="left:509.07px;top:307.59px;font-size:10px;font-weight:normal;color:#2a2a2a;transform:scale(0.9714,0.7474);-webkit-text-stroke:0.22px #2a2a2a">KJJ660(A)</div><div class="t" style="left:681.08px;top:307.59px;font-size:10px;font-weight:normal;color:#2a2a2a;transform:scale(0.9626,0.7474);-webkit-text-stroke:0.22px #2a2a2a">KJJ660(A)</div><div class="t" style="left:711.29px;top:326.19px;font-size:10px;font-weight:normal;color:#2a2a2a;transform:scale(0.9451,0.7789);-webkit-text-stroke:0.22px #2a2a2a">KJJ660(A)</div><div class="t" style="left:649.28px;top:355.18px;font-size:10px;font-weight:normal;color:#2a2a2a;transform:scale(0.9538,0.7368);-webkit-text-stroke:0.22px #2a2a2a">KJJ660(A)</div><div class="t" style="left:549.08px;top:355.18px;font-size:10px;font-weight:normal;color:#2a2a2a;transform:scale(0.9626,0.7368);-webkit-text-stroke:0.22px #2a2a2a">KJJ660(A)</div><div class="t" style="left:470.78px;top:324.99px;font-size:10px;font-weight:normal;color:#2a2a2a;transform:scale(0.9560,0.7579);-webkit-text-stroke:0.22px #2a2a2a">KJJ660(A)</div>
</body></html>
